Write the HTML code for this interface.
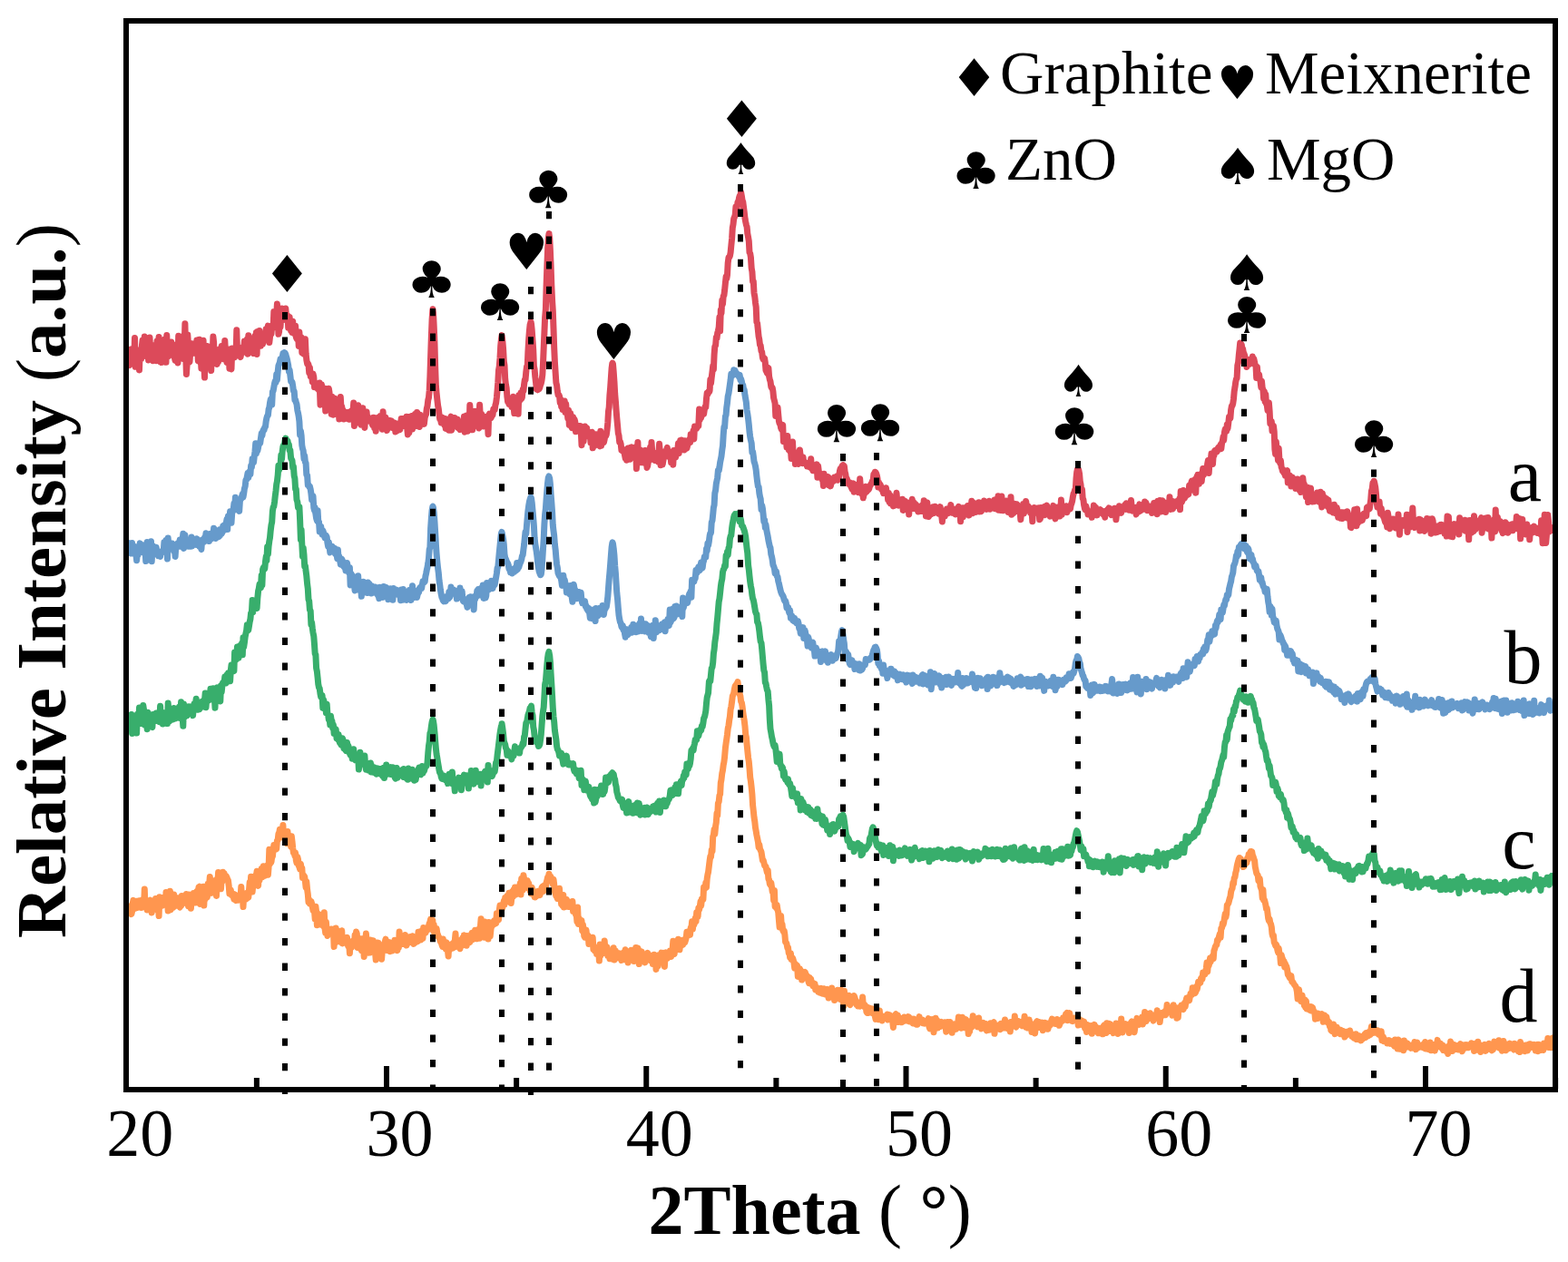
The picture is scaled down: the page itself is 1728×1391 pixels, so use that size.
<!DOCTYPE html><html><head><meta charset="utf-8"><title>XRD patterns</title><style>html,body{margin:0;padding:0;background:#fff;}svg{display:block;}.t{font-family:"Liberation Serif","DejaVu Serif",serif;}.s{font-family:"DejaVu Sans",sans-serif;}</style></head><body>
<svg width="1728" height="1391" viewBox="0 0 1728 1391">
<rect width="1728" height="1391" fill="#fff"/>
<path d="M142.0,390.3 142.7,402.7 143.4,401.4 144.2,385.1 144.9,387.1 145.6,384.9 146.3,395.1 147.0,389.2 147.8,396.7 148.5,372.4 149.2,404.3 149.9,388.7 150.6,395.9 151.4,388.2 152.1,385.9 152.8,393.7 153.5,407.9 154.2,387.4 155.0,387.8 155.7,395.6 156.4,381.0 157.1,375.0 157.8,392.7 158.6,382.7 159.3,371.0 160.0,381.3 160.7,384.5 161.4,377.6 162.2,374.8 162.9,389.0 163.6,396.9 164.3,383.3 165.0,371.9 165.8,392.0 166.5,395.0 167.2,385.5 167.9,393.2 168.6,397.7 169.4,386.2 170.1,380.5 170.8,391.1 171.5,390.1 172.2,397.7 173.0,376.0 173.7,381.6 174.4,379.8 175.1,371.6 175.8,388.4 176.6,398.7 177.3,380.3 178.0,399.6 178.7,394.3 179.4,392.4 180.2,395.4 180.9,395.2 181.6,374.0 182.3,391.8 183.0,399.3 183.8,369.6 184.5,388.9 185.2,383.3 185.9,392.6 186.6,381.4 187.4,385.1 188.1,388.2 188.8,377.1 189.5,390.3 190.2,383.9 191.0,389.1 191.7,379.9 192.4,394.2 193.1,397.4 193.8,382.8 194.6,389.9 195.3,395.4 196.0,400.0 196.7,370.2 197.4,391.9 198.2,388.1 198.9,383.2 199.6,375.2 200.0,395.0 200.3,373.0 201.0,389.0 201.8,395.4 202.5,370.1 203.2,381.5 203.9,356.7 204.6,386.4 205.4,412.4 206.1,402.2 206.8,368.9 207.5,379.5 208.2,399.6 209.0,398.8 209.7,388.7 210.4,378.5 211.1,387.9 211.8,385.2 212.6,383.7 213.3,379.1 214.0,389.3 214.7,388.7 215.4,385.3 216.2,384.3 216.9,374.9 217.6,382.2 218.3,397.6 219.0,385.2 219.8,374.2 220.5,399.2 221.2,392.1 221.9,406.2 222.6,388.3 223.4,383.8 224.1,375.3 224.8,399.7 225.5,416.1 226.2,381.3 227.0,383.0 227.7,393.8 228.4,381.6 229.1,386.5 229.8,385.9 230.6,390.7 231.3,398.7 232.0,389.4 232.7,408.5 233.4,385.8 234.2,392.4 234.9,371.1 235.6,377.2 236.3,396.7 237.0,384.9 237.8,395.0 238.5,394.7 239.2,401.4 239.9,397.2 240.6,398.9 241.4,389.5 242.1,384.7 242.8,384.5 243.5,386.6 244.2,381.4 245.0,386.3 245.7,390.1 246.4,395.8 247.1,388.2 247.8,375.4 248.6,390.4 249.3,392.8 250.0,399.5 250.7,395.5 251.4,386.0 252.2,385.3 252.9,406.2 253.6,396.5 254.3,404.6 255.0,406.8 255.8,384.0 256.5,393.1 257.2,393.4 257.9,394.0 258.6,393.7 259.4,390.8 260.1,390.4 260.8,363.8 261.5,387.2 262.2,382.3 263.0,388.9 263.7,384.0 264.4,392.2 265.1,393.5 265.8,389.2 266.6,388.9 267.3,386.9 268.0,382.3 268.7,384.2 269.4,376.0 270.2,387.9 270.9,384.7 271.6,388.7 272.3,374.1 273.0,390.2 273.8,369.7 274.5,377.4 275.2,381.0 275.9,377.9 276.6,386.8 277.4,377.0 278.1,372.9 278.8,374.1 279.5,389.5 280.2,379.7 281.0,370.3 281.7,378.4 282.4,366.4 283.1,390.5 283.8,365.6 284.6,379.8 285.3,379.7 286.0,364.5 286.7,376.8 287.4,381.3 288.2,376.8 288.9,374.8 289.6,379.0 290.3,372.8 291.0,373.4 291.8,369.6 292.5,374.1 293.2,362.7 293.9,373.8 294.6,364.1 295.4,359.1 296.1,368.7 296.8,377.6 297.5,371.5 298.2,360.1 299.0,368.0 299.7,359.1 300.4,359.5 301.1,361.5 301.8,343.6 302.6,360.7 303.3,351.4 304.0,353.1 304.7,347.2 305.4,335.1 306.2,349.4 306.9,368.3 307.6,365.6 308.3,353.6 309.0,360.5 309.8,350.7 310.5,339.9 311.2,351.9 311.9,352.8 312.6,347.8 313.4,350.9 314.1,351.7 314.8,340.0 315.0,342.6 315.5,348.1 316.2,348.4 317.0,348.1 317.7,361.3 318.4,359.3 319.1,349.4 319.8,355.9 320.6,364.5 321.3,357.5 322.0,366.4 322.7,354.3 323.4,364.8 324.2,367.5 324.9,364.0 325.6,359.3 326.3,371.7 327.0,373.3 327.8,370.3 328.5,366.4 329.2,381.4 329.9,366.1 330.6,378.8 331.4,377.2 332.1,371.9 332.8,388.5 333.5,388.0 334.2,378.4 335.0,390.2 335.7,383.3 336.4,373.8 337.1,389.3 337.8,396.5 338.6,400.8 339.3,400.5 340.0,402.0 340.7,410.7 341.4,405.1 342.2,414.7 342.9,411.4 343.6,414.2 344.3,420.8 345.0,412.1 345.8,415.6 346.5,426.7 347.2,423.4 347.9,422.4 348.6,426.2 349.4,424.1 350.1,428.3 350.8,425.1 351.5,430.1 352.2,422.1 353.0,446.2 353.7,428.5 354.4,423.6 355.1,431.2 355.8,431.0 356.6,434.4 357.3,427.9 358.0,436.8 358.7,453.0 359.4,428.4 360.2,438.1 360.9,435.0 361.6,438.3 362.3,428.2 363.0,432.4 363.8,441.3 364.5,439.1 365.2,456.3 365.9,437.3 366.6,442.4 367.4,457.2 368.1,439.1 368.8,439.1 369.5,444.4 370.2,445.1 371.0,450.6 371.7,447.6 372.4,443.9 373.1,449.5 373.8,462.1 374.6,456.0 375.3,437.6 376.0,449.7 376.7,447.9 377.4,455.2 378.2,452.2 378.9,462.0 379.6,458.0 380.3,458.2 381.0,455.3 381.8,454.6 382.5,456.7 383.2,461.6 383.9,458.2 384.6,454.2 385.4,462.3 386.1,457.3 386.8,456.2 387.5,452.9 388.2,454.3 389.0,454.1 389.7,443.9 390.4,469.4 391.1,460.5 391.8,456.9 392.6,463.2 393.3,460.4 394.0,460.3 394.7,446.8 395.4,457.7 396.2,461.5 396.9,466.8 397.6,468.0 398.3,466.2 399.0,454.3 399.8,449.7 400.5,462.8 401.2,460.5 401.9,471.4 402.6,460.1 403.4,463.4 404.1,454.0 404.8,463.4 405.5,459.4 406.2,463.3 407.0,464.0 407.7,461.5 408.4,463.7 409.1,462.3 409.8,466.2 410.6,468.6 411.3,460.3 412.0,460.3 412.7,471.8 413.4,463.0 414.2,475.3 414.9,465.7 415.6,461.2 416.3,460.5 417.0,464.9 417.8,465.8 418.5,467.7 419.2,458.5 419.9,462.0 420.6,464.7 421.4,473.2 422.1,453.8 422.8,467.9 423.5,463.2 424.2,468.2 425.0,460.3 425.7,468.3 426.4,474.6 427.1,468.6 427.8,469.2 428.6,471.7 429.3,463.6 430.0,470.3 430.7,465.2 431.4,463.8 432.2,467.9 432.9,467.1 433.6,472.1 434.3,468.3 435.0,466.0 435.8,475.9 436.5,473.7 437.2,475.2 437.9,471.9 438.6,468.4 439.4,466.9 440.1,467.6 440.8,473.7 441.5,469.5 442.2,461.5 443.0,468.6 443.7,461.6 444.4,469.5 445.1,462.4 445.8,461.9 446.6,468.9 447.3,467.7 448.0,459.3 448.7,471.6 449.4,478.9 450.2,459.5 450.9,476.8 451.6,463.2 452.3,460.3 453.0,465.5 453.8,458.4 454.5,473.0 455.2,468.4 455.9,461.3 456.6,463.7 457.4,456.5 458.1,462.7 458.8,469.6 459.5,454.6 460.2,461.5 461.0,464.5 461.7,469.2 462.4,470.4 463.1,457.3 463.8,459.0 464.6,464.5 465.3,460.6 466.0,460.6 466.7,464.0 467.4,467.4 468.2,460.3 468.9,458.0 469.6,456.5 470.3,450.3 471.0,447.7 471.8,440.9 472.5,438.1 473.2,430.2 473.9,415.0 474.6,393.2 475.4,369.6 476.1,351.9 476.8,342.0 477.0,340.8 477.5,345.0 478.2,359.4 479.0,379.2 479.7,405.1 480.4,425.3 481.1,433.4 481.8,440.1 482.6,447.0 483.3,450.7 484.0,456.8 484.7,461.8 485.4,460.9 486.2,466.0 486.9,464.2 487.6,460.3 488.3,466.1 489.0,463.2 489.8,468.4 490.5,461.5 491.2,472.4 491.9,462.9 492.6,469.1 493.4,463.4 494.1,465.0 494.8,474.3 495.5,468.3 496.2,461.1 497.0,459.2 497.7,474.2 498.4,471.6 499.1,465.0 499.8,468.5 500.6,460.6 501.3,460.6 502.0,461.8 502.7,469.2 503.4,468.9 504.2,462.3 504.9,471.7 505.6,472.0 506.3,468.1 507.0,473.6 507.8,465.2 508.5,466.3 509.2,470.0 509.9,466.8 510.6,472.1 511.4,459.0 512.1,476.2 512.8,462.0 513.5,465.9 514.2,458.1 515.0,470.9 515.7,475.2 516.4,473.9 517.1,472.4 517.8,446.5 518.6,462.0 519.3,464.1 520.0,453.2 520.7,473.8 521.4,468.1 522.2,466.7 522.9,469.7 523.6,453.2 524.3,461.2 525.0,461.2 525.8,469.2 526.5,468.1 527.2,469.3 527.9,472.0 528.6,446.3 529.4,461.7 530.1,465.7 530.8,456.4 531.5,461.0 532.2,469.8 533.0,470.0 533.7,469.5 534.4,462.9 535.1,460.9 535.8,468.3 536.6,459.1 537.3,462.9 538.0,478.7 538.7,457.9 539.4,456.2 540.2,458.8 540.9,460.9 541.6,459.6 542.3,457.3 543.0,457.3 543.8,450.9 544.5,451.5 545.2,451.5 545.9,446.5 546.6,444.2 547.4,438.1 548.1,430.1 548.8,421.3 549.5,408.1 550.2,404.4 551.0,394.5 551.7,381.4 552.4,374.3 553.0,370.1 553.1,369.6 553.8,375.2 554.6,384.9 555.3,398.3 556.0,402.6 556.7,417.6 557.4,423.6 558.2,428.0 558.9,437.4 559.6,442.7 560.3,441.5 561.0,445.4 561.8,441.1 562.5,446.3 563.2,441.0 563.9,448.5 564.6,440.5 565.4,437.2 566.1,448.3 566.8,455.6 567.5,443.7 568.2,449.0 569.0,445.3 569.7,442.7 570.4,445.8 571.1,456.3 571.8,435.7 572.6,441.9 573.3,439.6 574.0,433.0 574.7,439.5 575.4,438.0 576.2,429.3 576.9,431.0 577.6,423.7 578.3,418.7 579.0,418.9 579.8,409.6 580.5,404.2 581.2,404.4 581.9,387.6 582.6,375.5 583.4,364.5 584.1,357.8 584.8,355.7 585.0,354.6 585.5,356.9 586.2,363.7 587.0,375.4 587.7,385.5 588.4,403.5 589.1,406.9 589.8,415.4 590.6,422.2 591.3,428.9 592.0,428.7 592.7,429.7 593.4,428.8 594.2,428.7 594.9,427.0 595.6,424.2 596.3,422.6 597.0,419.3 597.8,413.4 598.5,400.6 599.2,383.4 599.9,366.8 600.6,350.4 601.4,340.5 602.1,314.9 602.8,295.4 603.5,277.5 604.2,263.0 605.0,257.5 605.0,257.7 605.7,262.5 606.4,276.0 607.1,293.1 607.8,313.9 608.6,331.5 609.3,342.5 610.0,362.2 610.7,383.1 611.4,398.8 612.2,411.4 612.9,421.9 613.6,424.6 614.3,430.9 615.0,435.1 615.8,435.1 616.5,436.5 617.2,443.7 617.9,440.0 618.6,448.0 619.4,442.3 620.1,451.4 620.8,450.0 621.5,448.9 622.2,442.0 623.0,454.5 623.7,445.2 624.4,454.2 625.1,454.7 625.8,461.1 626.6,452.3 627.3,468.3 628.0,458.8 628.7,455.4 629.4,469.3 630.2,471.6 630.9,462.7 631.6,459.6 632.3,465.2 633.0,462.1 633.8,464.8 634.5,475.8 635.2,470.0 635.9,469.3 636.6,471.0 637.4,469.4 638.1,475.1 638.8,475.9 639.5,469.5 640.2,472.8 641.0,490.7 641.7,475.9 642.4,473.2 643.1,486.4 643.8,475.6 644.6,470.0 645.3,480.7 646.0,472.6 646.7,471.7 647.4,480.7 648.2,478.9 648.9,476.2 649.6,478.0 650.3,478.4 651.0,488.1 651.8,478.9 652.5,476.2 653.2,493.8 653.9,481.3 654.6,491.7 655.4,491.2 656.1,484.4 656.8,478.7 657.5,487.8 658.2,488.9 659.0,490.3 659.7,486.3 660.4,491.2 661.1,491.8 661.8,475.2 662.6,491.3 663.3,485.7 664.0,482.3 664.7,482.9 665.4,487.8 666.2,484.2 666.9,479.3 667.6,480.7 668.3,478.9 669.0,474.1 669.8,466.0 670.5,453.3 671.2,449.0 671.9,435.6 672.6,427.7 673.4,416.0 674.1,405.7 674.8,400.6 675.0,400.2 675.5,401.4 676.2,409.7 677.0,421.2 677.7,434.1 678.4,442.4 679.1,451.9 679.8,460.7 680.6,469.4 681.3,477.5 682.0,479.9 682.7,487.2 683.4,486.7 684.2,489.5 684.9,496.1 685.6,495.7 686.3,497.3 687.0,497.1 687.8,495.8 688.5,501.5 689.2,505.2 689.9,499.0 690.6,507.2 691.4,497.5 692.1,494.1 692.8,505.0 693.5,502.5 694.2,506.3 695.0,493.2 695.7,497.3 696.4,492.9 697.1,496.5 697.8,497.3 698.6,495.5 699.3,504.8 700.0,499.7 700.7,492.7 701.4,516.6 702.2,499.0 702.9,487.4 703.6,510.1 704.3,509.7 705.0,497.5 705.8,495.8 706.5,498.4 707.2,509.7 707.9,502.1 708.6,499.5 709.4,503.7 710.1,510.2 710.8,496.5 711.5,501.9 712.2,496.6 713.0,515.4 713.7,513.5 714.4,509.0 715.1,502.3 715.8,507.4 716.6,493.0 717.3,505.4 718.0,487.5 718.7,497.2 719.4,500.5 720.2,499.9 720.9,506.8 721.6,507.3 722.3,505.1 723.0,499.2 723.8,506.8 724.5,502.8 725.2,508.9 725.9,498.5 726.6,489.3 727.4,500.2 728.1,512.8 728.8,504.3 729.5,500.7 730.2,512.0 731.0,507.1 731.7,503.0 732.4,497.7 733.1,501.0 733.8,500.7 734.6,496.1 735.3,493.3 736.0,499.4 736.7,503.2 737.4,501.3 738.2,500.2 738.9,499.9 739.6,509.8 740.3,498.2 741.0,501.8 741.8,512.2 742.5,496.4 743.2,497.2 743.9,501.0 744.6,504.1 745.4,496.8 746.1,496.8 746.8,495.2 747.5,488.7 748.2,499.7 749.0,492.8 749.7,485.6 750.4,492.8 751.1,485.1 751.8,488.3 752.6,492.5 753.3,488.2 754.0,495.9 754.7,485.7 755.4,491.6 756.2,491.9 756.9,494.1 757.6,491.3 758.3,487.8 759.0,486.1 759.8,484.2 760.5,487.9 761.2,478.7 761.9,482.7 762.6,478.2 763.4,478.3 764.1,474.6 764.8,483.9 765.5,470.1 766.2,473.0 767.0,471.9 767.7,472.3 768.4,470.1 769.1,468.6 769.8,469.6 770.6,451.1 771.3,462.7 772.0,456.6 772.7,460.5 773.4,454.0 774.2,453.2 774.9,454.2 775.6,456.5 776.3,451.8 777.0,448.5 777.8,449.0 778.5,439.4 779.2,433.2 779.9,434.8 780.6,431.9 781.4,432.3 782.1,430.6 782.8,418.6 783.5,422.7 784.2,416.2 785.0,409.7 785.7,403.3 786.4,407.1 787.1,390.8 787.8,382.0 788.6,380.7 789.3,372.0 790.0,373.1 790.7,367.1 791.4,364.8 792.2,360.8 792.9,349.8 793.6,364.9 794.3,341.7 795.0,345.4 795.8,330.9 796.5,335.1 797.2,326.3 797.9,325.5 798.6,319.8 799.4,311.8 800.1,305.1 800.8,307.2 801.5,302.9 802.2,289.8 803.0,283.8 803.7,283.5 804.4,282.2 805.1,278.3 805.8,271.0 806.6,263.0 807.3,251.0 808.0,247.4 808.7,240.8 809.4,239.5 810.2,236.8 810.9,228.1 811.6,235.1 812.3,227.9 813.0,222.7 813.8,222.3 814.5,218.0 815.2,215.8 815.9,215.1 816.0,214.7 816.6,211.8 817.4,216.3 818.1,221.1 818.8,222.6 819.5,228.2 820.2,233.5 821.0,240.7 821.7,244.5 822.4,247.8 823.1,249.8 823.8,257.3 824.6,261.7 825.3,265.9 826.0,278.2 826.7,279.3 827.4,283.5 828.2,295.7 828.9,299.3 829.6,310.4 830.3,310.1 831.0,322.8 831.8,327.2 832.5,333.7 833.2,338.2 833.9,355.1 834.6,356.3 835.4,364.1 836.1,370.9 836.8,374.3 837.5,380.1 838.2,381.0 839.0,387.1 839.7,388.1 840.4,394.1 841.1,396.2 841.8,394.4 842.6,395.0 843.3,399.6 844.0,408.2 844.7,409.4 845.4,411.3 846.2,405.1 846.9,405.8 847.6,414.9 848.3,418.4 849.0,420.4 849.8,426.2 850.5,427.7 851.2,427.4 851.9,431.4 852.6,438.7 853.4,441.7 854.1,444.5 854.8,458.6 855.5,450.3 856.2,454.5 857.0,448.9 857.7,456.5 858.4,464.2 859.1,467.0 859.8,467.1 860.6,471.7 861.3,473.3 862.0,469.5 862.7,468.4 863.4,486.6 864.2,484.5 864.9,484.1 865.6,481.4 866.3,484.2 867.0,493.0 867.8,480.5 868.5,490.5 869.2,495.7 869.9,494.3 870.6,497.6 871.4,495.4 872.1,505.6 872.8,494.0 873.5,486.9 874.2,500.6 875.0,505.7 875.7,501.0 876.4,511.5 877.1,500.7 877.8,498.8 878.6,509.4 879.3,510.8 880.0,511.3 880.7,504.3 881.4,495.9 882.2,502.7 882.9,506.8 883.6,510.4 884.3,510.6 885.0,503.7 885.8,510.4 886.5,510.2 887.2,510.8 887.9,510.7 888.6,510.4 889.4,514.0 890.1,512.5 890.8,513.3 891.5,510.0 892.2,514.7 893.0,513.0 893.7,505.7 894.4,516.2 895.1,512.4 895.8,518.7 896.6,515.1 897.3,515.9 898.0,518.6 898.7,517.3 899.4,516.3 900.2,511.9 900.9,526.3 901.6,513.8 902.3,519.3 903.0,524.0 903.8,525.6 904.5,524.9 905.2,526.3 905.9,528.6 906.6,525.8 907.4,535.5 908.1,522.3 908.8,527.1 909.5,525.5 910.2,525.1 911.0,528.6 911.7,533.3 912.4,525.6 913.1,526.0 913.8,535.1 914.6,531.1 915.3,535.9 916.0,532.9 916.7,530.5 917.4,529.1 918.2,530.5 918.9,529.4 919.6,526.0 920.3,528.8 921.0,527.5 921.8,526.4 922.5,524.8 923.2,529.3 923.9,528.1 924.6,525.1 925.4,519.4 926.1,516.6 926.8,516.8 927.5,515.6 928.2,513.3 929.0,512.6 929.0,513.9 929.7,514.4 930.4,513.8 931.1,519.9 931.8,522.4 932.6,528.2 933.3,527.6 934.0,530.5 934.7,533.2 935.4,533.0 936.2,531.6 936.9,533.1 937.6,535.8 938.3,537.4 939.0,539.0 939.8,536.5 940.5,532.9 941.2,542.3 941.9,538.7 942.6,539.4 943.4,539.3 944.1,534.5 944.8,537.4 945.5,539.7 946.2,542.7 947.0,539.3 947.7,527.8 948.4,538.5 949.1,540.8 949.8,544.3 950.6,542.3 951.3,548.8 952.0,544.8 952.7,544.3 953.4,542.8 954.2,536.2 954.9,542.1 955.6,541.2 956.3,538.3 957.0,540.0 957.8,538.7 958.5,535.6 959.2,535.1 959.9,533.4 960.6,533.2 961.4,530.0 962.1,530.5 962.8,523.0 963.5,523.4 964.2,520.2 965.0,520.6 965.0,521.5 965.7,521.9 966.4,524.2 967.1,528.0 967.8,537.0 968.6,531.6 969.3,537.1 970.0,534.0 970.7,535.6 971.4,539.2 972.2,537.6 972.9,541.3 973.6,543.7 974.3,538.6 975.0,542.7 975.8,542.4 976.5,537.8 977.2,544.2 977.9,542.7 978.6,550.7 979.4,543.4 980.1,553.2 980.8,545.7 981.5,555.1 982.2,550.6 983.0,553.1 983.7,552.6 984.4,557.9 985.1,555.7 985.8,557.3 986.6,550.5 987.3,547.8 988.0,543.3 988.7,551.7 989.4,556.2 990.2,557.1 990.9,554.7 991.6,553.5 992.3,552.9 993.0,554.5 993.8,557.1 994.5,550.2 995.2,562.4 995.9,551.9 996.6,556.5 997.4,552.2 998.1,556.3 998.8,554.2 999.5,553.9 1000.2,557.2 1001.0,554.4 1001.7,567.0 1002.4,557.0 1003.1,556.3 1003.8,556.8 1004.6,555.1 1005.3,550.3 1006.0,558.3 1006.7,560.5 1007.4,554.1 1008.2,559.7 1008.9,555.5 1009.6,559.8 1010.3,561.3 1011.0,561.9 1011.8,564.0 1012.5,557.9 1013.2,563.7 1013.9,559.1 1014.6,562.1 1015.4,563.4 1016.1,560.0 1016.8,556.6 1017.5,563.5 1018.2,551.8 1019.0,558.3 1019.7,557.7 1020.4,568.9 1021.1,561.2 1021.8,553.9 1022.6,564.6 1023.3,569.5 1024.0,568.6 1024.7,560.3 1025.4,562.7 1026.2,566.8 1026.9,565.7 1027.6,562.8 1028.3,558.8 1029.0,565.5 1029.8,565.1 1030.5,558.2 1031.2,561.7 1031.9,564.0 1032.6,563.1 1033.4,565.1 1034.1,566.1 1034.8,565.3 1035.5,563.0 1036.2,558.6 1037.0,565.7 1037.7,568.5 1038.4,575.0 1039.1,563.5 1039.8,563.5 1040.6,568.9 1041.3,568.9 1042.0,565.0 1042.7,566.3 1043.4,561.1 1044.2,565.9 1044.9,560.9 1045.6,563.4 1046.3,563.5 1047.0,562.3 1047.8,556.4 1048.5,561.0 1049.2,565.1 1049.9,563.7 1050.6,562.6 1051.4,565.4 1052.1,566.3 1052.8,566.9 1053.5,561.0 1054.2,563.9 1055.0,562.6 1055.7,560.6 1056.4,558.4 1057.1,563.3 1057.8,560.5 1058.6,574.8 1059.3,563.0 1060.0,562.5 1060.7,559.8 1061.4,569.8 1062.2,559.7 1062.9,562.4 1063.6,560.1 1064.3,562.3 1065.0,562.5 1065.8,566.4 1066.5,557.4 1067.2,562.2 1067.9,568.0 1068.6,560.2 1069.4,561.3 1070.1,558.6 1070.8,552.3 1071.5,561.2 1072.2,565.7 1073.0,559.6 1073.7,554.5 1074.4,562.0 1075.1,561.2 1075.8,564.4 1076.6,563.9 1077.3,559.6 1078.0,561.8 1078.7,553.8 1079.4,564.1 1080.2,560.7 1080.9,563.8 1081.6,563.6 1082.3,558.6 1083.0,559.0 1083.8,556.3 1084.5,552.0 1085.2,558.7 1085.9,559.6 1086.6,555.1 1087.4,561.4 1088.1,559.1 1088.8,560.3 1089.5,555.9 1090.2,552.3 1091.0,561.2 1091.7,560.5 1092.4,557.9 1093.1,556.8 1093.8,557.2 1094.6,557.7 1095.3,556.3 1096.0,551.0 1096.7,560.8 1097.4,552.7 1098.2,556.8 1098.9,556.9 1099.6,558.9 1100.0,546.8 1100.3,562.2 1101.0,560.3 1101.8,560.7 1102.5,562.4 1103.2,555.2 1103.9,547.0 1104.6,559.3 1105.4,562.8 1106.1,562.3 1106.8,553.7 1107.5,558.0 1108.2,559.4 1109.0,552.1 1109.7,556.2 1110.4,556.4 1111.1,564.4 1111.8,556.5 1112.6,564.5 1113.3,559.1 1114.0,547.7 1114.7,567.2 1115.4,555.9 1116.2,561.7 1116.9,565.7 1117.6,557.8 1118.3,555.4 1119.0,563.7 1119.8,560.6 1120.5,555.7 1121.2,556.4 1121.9,559.0 1122.6,564.1 1123.4,559.7 1124.1,563.2 1124.8,572.7 1125.5,565.7 1126.2,566.5 1127.0,565.9 1127.7,555.6 1128.4,566.1 1129.1,562.9 1129.8,561.4 1130.6,552.5 1131.3,556.3 1132.0,558.2 1132.7,562.3 1133.4,558.2 1134.2,559.6 1134.9,560.4 1135.6,565.2 1136.3,561.8 1137.0,562.5 1137.8,574.7 1138.5,562.0 1139.2,565.5 1139.9,559.5 1140.6,564.6 1141.4,564.0 1142.1,565.1 1142.8,562.0 1143.5,560.0 1144.2,562.7 1145.0,559.8 1145.7,572.8 1146.4,571.8 1147.1,559.6 1147.8,566.2 1148.6,562.2 1149.3,565.7 1150.0,559.8 1150.7,558.6 1151.4,567.7 1152.2,565.6 1152.9,559.5 1153.6,557.0 1154.3,562.0 1155.0,559.6 1155.8,562.5 1156.5,566.1 1157.2,569.2 1157.9,562.5 1158.6,568.8 1159.4,567.9 1160.1,562.0 1160.8,557.4 1161.5,566.6 1162.2,565.6 1163.0,571.9 1163.7,568.5 1164.4,566.0 1165.1,569.2 1165.8,559.1 1166.6,563.5 1167.3,561.7 1168.0,568.9 1168.7,564.5 1169.4,551.1 1170.2,567.2 1170.9,558.7 1171.6,564.7 1172.3,559.9 1173.0,562.4 1173.8,563.6 1174.5,561.8 1175.2,557.8 1175.9,564.7 1176.6,561.5 1177.4,560.2 1178.1,561.3 1178.8,558.5 1179.5,561.0 1180.2,556.6 1181.0,554.6 1181.7,552.0 1182.4,547.4 1183.1,544.1 1183.8,543.0 1184.6,539.7 1185.3,539.5 1186.0,527.4 1186.7,520.4 1187.4,517.4 1188.0,516.4 1188.2,516.6 1188.9,518.7 1189.6,522.4 1190.3,530.6 1191.0,533.8 1191.8,542.0 1192.5,539.3 1193.2,549.2 1193.9,550.7 1194.6,556.6 1195.4,560.4 1196.1,561.9 1196.8,557.8 1197.5,561.1 1198.2,561.7 1199.0,567.0 1199.7,564.8 1200.4,564.5 1201.1,565.0 1201.8,566.0 1202.6,566.4 1203.3,570.3 1204.0,563.8 1204.7,564.8 1205.4,556.9 1206.2,558.9 1206.9,561.3 1207.6,559.4 1208.3,564.8 1209.0,567.9 1209.8,562.2 1210.5,562.0 1211.2,561.8 1211.9,564.3 1212.6,561.6 1213.4,565.3 1214.1,564.8 1214.8,564.9 1215.5,566.5 1216.2,563.7 1217.0,564.0 1217.7,570.2 1218.4,563.2 1219.1,566.4 1219.8,563.5 1220.6,561.5 1221.3,561.4 1222.0,560.0 1222.7,563.2 1223.4,560.7 1224.2,561.4 1224.9,567.7 1225.6,562.4 1226.3,567.3 1227.0,563.8 1227.8,566.1 1228.5,560.3 1229.2,563.2 1229.9,572.8 1230.6,565.7 1231.4,566.4 1232.1,563.3 1232.8,565.7 1233.5,557.8 1234.2,558.9 1235.0,563.8 1235.7,565.3 1236.4,560.4 1237.1,560.2 1237.8,560.5 1238.6,561.1 1239.3,557.1 1240.0,556.1 1240.7,561.4 1241.4,554.8 1242.2,557.7 1242.9,558.9 1243.6,557.3 1244.3,562.3 1245.0,559.6 1245.8,560.9 1246.5,551.6 1247.2,558.2 1247.9,563.1 1248.6,562.4 1249.4,559.1 1250.1,562.3 1250.8,562.5 1251.5,561.4 1252.2,567.0 1253.0,559.1 1253.7,562.3 1254.4,564.4 1255.1,559.6 1255.8,555.9 1256.6,563.2 1257.3,562.7 1258.0,560.6 1258.7,560.4 1259.4,560.3 1260.2,556.7 1260.9,561.3 1261.6,553.0 1262.3,559.9 1263.0,554.1 1263.8,558.6 1264.5,562.7 1265.2,558.8 1265.9,557.9 1266.6,561.8 1267.4,558.6 1268.1,558.0 1268.8,558.0 1269.5,565.5 1270.2,562.1 1271.0,561.3 1271.7,554.6 1272.4,564.8 1273.1,554.1 1273.8,561.0 1274.6,554.6 1275.3,566.7 1276.0,552.2 1276.7,563.6 1277.4,561.9 1278.2,551.6 1278.9,557.6 1279.6,564.1 1280.3,562.8 1281.0,551.7 1281.8,552.9 1282.5,553.5 1283.2,554.0 1283.9,555.4 1284.6,564.5 1285.4,558.0 1286.1,556.5 1286.8,555.9 1287.5,559.3 1288.2,559.1 1289.0,547.8 1289.7,561.4 1290.4,551.5 1291.1,552.4 1291.8,556.6 1292.6,561.0 1293.3,552.7 1294.0,554.7 1294.7,558.2 1295.4,555.2 1296.2,556.7 1296.9,555.9 1297.6,552.4 1298.3,553.3 1299.0,553.9 1299.8,549.8 1300.5,561.7 1301.2,541.5 1301.9,545.0 1302.6,553.1 1303.4,548.7 1304.1,540.4 1304.8,547.2 1305.5,549.2 1306.2,542.3 1307.0,546.6 1307.7,542.5 1308.4,541.7 1309.1,541.1 1309.8,545.0 1310.6,535.3 1311.3,537.5 1312.0,540.8 1312.7,532.4 1313.4,530.1 1314.2,538.0 1314.9,534.9 1315.6,533.5 1316.3,533.8 1317.0,528.5 1317.8,543.2 1318.5,526.8 1319.2,525.3 1319.9,523.3 1320.6,526.4 1321.4,533.3 1322.1,526.3 1322.8,527.7 1323.5,522.5 1324.2,530.7 1325.0,523.2 1325.7,516.6 1326.4,523.7 1327.1,518.2 1327.8,521.1 1328.6,518.2 1329.3,517.7 1330.0,516.6 1330.7,510.9 1331.4,507.5 1332.2,521.6 1332.9,510.9 1333.6,512.8 1334.3,507.4 1335.0,500.0 1335.8,501.9 1336.5,511.5 1337.2,501.7 1337.9,502.2 1338.6,496.9 1339.4,496.2 1340.1,496.5 1340.8,498.1 1341.5,497.3 1342.2,494.0 1343.0,492.9 1343.7,493.5 1344.4,493.2 1345.1,490.0 1345.8,494.8 1346.6,488.0 1347.3,486.1 1348.0,481.6 1348.7,485.2 1349.4,476.7 1350.2,472.9 1350.9,472.8 1351.6,475.3 1352.3,467.9 1353.0,472.2 1353.8,466.0 1354.5,459.4 1355.2,459.7 1355.9,461.1 1356.6,451.8 1357.4,447.4 1358.1,447.1 1358.8,444.5 1359.5,439.4 1360.2,431.4 1361.0,426.7 1361.7,421.2 1362.4,418.0 1363.1,416.9 1363.8,402.8 1364.6,399.2 1365.3,391.2 1366.0,385.0 1366.7,377.9 1367.0,378.4 1367.4,379.5 1368.2,379.7 1368.9,383.6 1369.6,384.5 1370.3,388.3 1371.0,389.7 1371.8,392.3 1372.5,395.3 1373.2,399.2 1373.9,404.5 1374.6,398.5 1375.4,402.0 1376.1,401.6 1376.8,399.8 1377.5,401.2 1378.2,395.9 1379.0,397.8 1379.7,399.3 1380.4,393.1 1381.0,396.2 1381.1,396.5 1381.8,395.4 1382.6,399.3 1383.3,402.4 1384.0,403.1 1384.7,416.5 1385.4,404.6 1386.2,414.5 1386.9,413.7 1387.6,412.9 1388.3,418.3 1389.0,419.8 1389.8,426.8 1390.5,420.3 1391.2,427.7 1391.9,429.2 1392.6,439.3 1393.4,431.8 1394.1,442.6 1394.8,434.8 1395.5,445.2 1396.2,446.3 1397.0,452.4 1397.7,450.0 1398.4,444.1 1399.1,452.7 1399.8,466.8 1400.6,465.7 1401.3,464.4 1402.0,475.1 1402.7,471.2 1403.4,469.2 1404.2,475.6 1404.9,495.3 1405.6,500.4 1406.3,486.9 1407.0,494.8 1407.8,500.3 1408.5,507.3 1409.2,494.2 1409.9,506.0 1410.6,510.3 1411.4,507.5 1412.1,514.7 1412.8,516.5 1413.5,519.5 1414.2,517.8 1415.0,521.4 1415.7,519.6 1416.4,524.1 1417.1,523.6 1417.8,519.8 1418.6,518.8 1419.3,532.0 1420.0,530.6 1420.7,530.3 1421.4,524.0 1422.2,526.1 1422.9,536.1 1423.6,532.5 1424.3,526.0 1425.0,530.7 1425.8,531.7 1426.5,530.9 1427.2,528.2 1427.9,538.6 1428.6,536.3 1429.4,533.4 1430.1,527.9 1430.8,532.8 1431.5,536.0 1432.2,540.4 1433.0,535.5 1433.7,542.6 1434.4,538.8 1435.1,535.4 1435.8,526.8 1436.6,534.5 1437.3,533.5 1438.0,539.9 1438.7,542.6 1439.4,547.8 1440.2,541.9 1440.9,537.1 1441.6,553.6 1442.3,544.6 1443.0,542.4 1443.8,542.8 1444.5,538.1 1445.2,547.8 1445.9,547.0 1446.6,553.0 1447.4,551.2 1448.1,550.5 1448.8,552.7 1449.5,546.1 1450.2,545.8 1451.0,548.1 1451.7,543.0 1452.4,548.6 1453.1,548.2 1453.8,553.3 1454.6,550.6 1455.3,542.2 1456.0,551.8 1456.7,558.9 1457.4,544.0 1458.2,549.6 1458.9,553.8 1459.6,547.9 1460.3,552.1 1461.0,555.4 1461.8,549.5 1462.5,557.5 1463.2,558.6 1463.9,551.2 1464.6,557.7 1465.4,563.1 1466.1,556.2 1466.8,561.0 1467.5,562.4 1468.2,558.7 1469.0,564.9 1469.7,562.5 1470.4,556.3 1471.1,563.9 1471.8,565.9 1472.6,566.1 1473.3,559.6 1474.0,565.3 1474.7,570.2 1475.4,565.1 1476.2,570.1 1476.9,571.1 1477.6,564.7 1478.3,568.8 1479.0,564.8 1479.8,571.5 1480.5,566.5 1481.2,564.8 1481.9,567.6 1482.6,567.7 1483.4,570.1 1484.1,570.7 1484.8,563.8 1485.5,566.3 1486.2,570.9 1487.0,571.6 1487.7,570.1 1488.4,581.3 1489.1,581.6 1489.8,569.6 1490.6,573.2 1491.3,576.0 1492.0,571.6 1492.7,561.7 1493.4,570.3 1494.2,570.0 1494.9,579.7 1495.6,561.0 1496.3,576.7 1497.0,567.6 1497.8,573.6 1498.5,567.8 1499.2,569.8 1499.9,574.1 1500.6,569.0 1501.4,573.2 1502.1,567.8 1502.8,566.5 1503.5,567.0 1504.2,566.1 1505.0,566.8 1505.7,568.8 1506.4,559.2 1507.1,558.8 1507.8,559.2 1508.6,560.2 1509.3,560.7 1510.0,555.6 1510.7,550.8 1511.4,541.4 1512.2,538.9 1512.9,532.6 1513.6,532.8 1514.0,533.6 1514.3,530.3 1515.0,533.3 1515.8,537.5 1516.5,544.4 1517.2,554.1 1517.9,559.0 1518.6,557.7 1519.4,553.0 1520.1,553.0 1520.8,561.5 1521.5,566.3 1522.2,560.2 1523.0,565.1 1523.7,566.8 1524.4,569.4 1525.1,569.7 1525.8,572.8 1526.6,575.5 1527.3,572.9 1528.0,575.9 1528.7,580.9 1529.4,565.3 1530.2,570.2 1530.9,576.5 1531.6,582.7 1532.3,575.4 1533.0,580.0 1533.8,573.3 1534.5,579.4 1535.2,571.9 1535.9,578.4 1536.6,577.1 1537.4,577.1 1538.1,582.0 1538.8,580.6 1539.5,572.4 1540.2,579.8 1541.0,567.1 1541.7,580.4 1542.4,589.2 1543.1,578.3 1543.8,578.2 1544.6,576.0 1545.3,579.9 1546.0,573.5 1546.7,579.2 1547.4,574.5 1548.2,573.8 1548.9,576.6 1549.6,575.7 1550.3,567.3 1551.0,586.4 1551.8,576.8 1552.5,567.7 1553.2,581.5 1553.9,576.0 1554.6,577.2 1555.4,579.8 1556.1,571.9 1556.8,559.9 1557.5,575.9 1558.2,577.7 1559.0,581.5 1559.7,572.9 1560.4,575.3 1561.1,578.7 1561.8,575.3 1562.6,575.7 1563.3,580.9 1564.0,572.2 1564.7,585.0 1565.4,572.8 1566.2,577.7 1566.9,576.0 1567.6,574.2 1568.3,580.5 1569.0,583.0 1569.8,585.4 1570.5,581.2 1571.2,576.3 1571.9,583.0 1572.6,571.6 1573.4,579.2 1574.1,581.8 1574.8,582.2 1575.5,573.7 1576.2,572.1 1577.0,588.2 1577.7,577.4 1578.4,571.8 1579.1,574.1 1579.8,581.4 1580.6,586.6 1581.3,581.5 1582.0,587.0 1582.7,582.3 1583.4,583.6 1584.2,586.3 1584.9,579.7 1585.6,585.9 1586.3,579.9 1587.0,578.8 1587.8,585.4 1588.5,578.2 1589.2,582.8 1589.9,578.6 1590.6,582.2 1591.4,580.1 1592.1,588.2 1592.8,583.3 1593.5,583.4 1594.2,591.1 1595.0,568.9 1595.7,577.7 1596.4,569.8 1597.1,583.2 1597.8,585.4 1598.6,591.2 1599.3,584.6 1600.0,579.0 1600.7,591.8 1601.4,584.7 1602.2,581.9 1602.9,577.6 1603.6,585.2 1604.3,580.6 1605.0,577.9 1605.8,583.9 1606.5,583.9 1607.2,578.7 1607.9,588.9 1608.6,570.8 1609.4,576.9 1610.1,583.9 1610.8,582.9 1611.5,582.5 1612.2,579.9 1613.0,582.1 1613.7,578.9 1614.4,573.3 1615.1,585.2 1615.8,576.3 1616.6,580.1 1617.3,584.8 1618.0,581.1 1618.7,594.8 1619.4,573.6 1620.2,576.7 1620.9,580.9 1621.6,587.2 1622.3,578.9 1623.0,572.7 1623.8,585.7 1624.5,568.7 1625.2,578.6 1625.9,583.9 1626.6,576.0 1627.4,573.9 1628.1,581.6 1628.8,578.0 1629.5,580.3 1630.2,574.0 1631.0,578.1 1631.7,573.1 1632.4,570.7 1633.1,587.2 1633.8,580.6 1634.6,582.9 1635.3,573.4 1636.0,578.0 1636.7,577.1 1637.4,571.0 1638.2,580.8 1638.9,574.4 1639.6,577.0 1640.0,570.4 1640.3,583.0 1641.0,581.8 1641.8,580.0 1642.5,573.5 1643.2,575.3 1643.9,593.0 1644.6,576.7 1645.4,579.5 1646.1,578.9 1646.8,572.5 1647.5,586.0 1648.2,562.0 1649.0,581.1 1649.7,577.9 1650.4,570.2 1651.1,580.2 1651.8,581.2 1652.6,579.2 1653.3,574.4 1654.0,581.0 1654.7,584.5 1655.4,580.0 1656.2,587.7 1656.9,583.4 1657.6,583.0 1658.3,586.3 1659.0,575.8 1659.8,576.6 1660.5,582.0 1661.2,582.1 1661.9,587.3 1662.6,585.5 1663.4,580.6 1664.1,580.9 1664.8,578.5 1665.5,578.1 1666.2,577.8 1667.0,584.8 1667.7,577.8 1668.4,578.5 1669.1,582.5 1669.8,577.9 1670.6,579.5 1671.3,569.5 1672.0,582.8 1672.7,579.4 1673.4,582.0 1674.2,583.1 1674.9,571.7 1675.6,593.8 1676.3,582.3 1677.0,582.5 1677.8,572.6 1678.5,585.1 1679.2,584.1 1679.9,580.3 1680.6,583.6 1681.4,589.0 1682.1,580.8 1682.8,578.0 1683.5,589.6 1684.2,584.2 1685.0,582.0 1685.7,594.8 1686.4,583.9 1687.1,582.3 1687.8,584.6 1688.6,581.2 1689.3,587.0 1690.0,584.1 1690.7,580.1 1691.4,582.1 1692.2,585.1 1692.9,585.5 1693.6,586.5 1694.3,587.6 1695.0,587.6 1695.8,586.3 1696.5,581.7 1697.2,582.3 1697.9,588.9 1698.6,573.7 1699.4,585.5 1700.1,598.8 1700.8,574.5 1701.5,590.8 1702.2,567.2 1703.0,585.1 1703.7,598.5 1704.4,590.4 1705.1,578.4 1705.8,567.6 1706.6,575.3 1707.3,586.1 1708.0,580.2 1708.7,582.1 1709.4,583.2 1710.2,583.8 1710.9,584.3 1711.6,582.0" fill="none" stroke="#dc4a5a" stroke-width="7.0" stroke-linejoin="round" stroke-linecap="round"/>
<path d="M142.0,598.6 142.7,599.5 143.4,599.3 144.2,602.0 144.9,610.1 145.6,598.5 146.3,608.4 147.0,609.8 147.8,603.6 148.5,602.4 149.2,607.0 149.9,610.0 150.6,617.8 151.4,608.9 152.1,611.7 152.8,603.8 153.5,602.2 154.2,598.9 155.0,601.2 155.7,604.3 156.4,606.5 157.1,600.7 157.8,609.0 158.6,605.5 159.3,603.4 160.0,602.9 160.7,618.5 161.4,606.6 162.2,597.4 162.9,602.2 163.6,613.2 164.3,603.7 165.0,610.7 165.8,611.6 166.5,596.8 167.2,618.7 167.9,605.2 168.6,601.7 169.4,603.9 170.1,608.2 170.8,607.4 171.5,607.6 172.2,603.2 173.0,610.7 173.7,611.5 174.4,612.7 175.1,609.4 175.8,612.7 176.6,613.4 177.3,607.9 178.0,608.5 178.7,607.2 179.4,606.9 180.2,607.9 180.9,597.7 181.6,602.9 182.3,608.6 183.0,595.5 183.8,597.9 184.5,616.0 185.2,593.1 185.9,601.1 186.6,604.2 187.4,600.6 188.1,598.8 188.8,600.0 189.5,600.1 190.2,599.3 191.0,602.1 191.7,607.6 192.4,602.4 193.1,613.4 193.8,603.4 194.6,603.6 195.3,602.4 196.0,598.8 196.7,601.4 197.4,600.7 198.2,595.1 198.9,602.2 199.6,601.3 200.3,600.4 201.0,596.6 201.8,588.3 202.5,604.4 203.2,598.1 203.9,589.7 204.6,600.8 205.4,595.3 206.1,600.7 206.8,597.5 207.5,602.3 208.2,598.6 209.0,598.7 209.7,598.1 210.4,602.3 211.1,592.1 211.8,602.0 212.6,599.9 213.3,594.8 214.0,596.9 214.7,595.0 215.4,597.0 216.2,600.4 216.9,593.8 217.6,599.4 218.3,600.1 219.0,598.8 219.8,602.4 220.5,595.7 221.2,602.5 221.9,605.6 222.6,595.7 223.4,594.9 224.1,595.4 224.8,597.5 225.5,592.6 226.2,594.0 227.0,587.8 227.7,590.5 228.4,590.4 229.1,589.7 229.8,592.3 230.6,596.5 231.3,590.1 232.0,588.4 232.7,594.0 233.4,593.4 234.2,587.3 234.9,592.7 235.6,582.2 236.3,589.0 237.0,588.3 237.8,593.5 238.5,587.2 239.2,588.5 239.9,589.7 240.6,591.8 241.4,591.5 242.1,583.8 242.8,589.9 243.5,586.2 244.2,588.2 245.0,586.8 245.7,580.0 246.4,581.0 247.1,578.5 247.8,580.0 248.6,583.9 249.3,576.4 250.0,572.4 250.7,583.5 251.4,568.9 252.2,571.4 252.9,570.0 253.6,563.8 254.3,570.7 255.0,576.2 255.8,564.6 256.5,563.8 257.2,561.8 257.9,555.0 258.6,562.0 259.4,548.3 260.1,554.3 260.8,558.4 261.5,559.7 262.2,551.7 263.0,558.0 263.7,563.4 264.4,552.3 265.1,550.4 265.8,549.9 266.6,547.0 267.3,544.4 268.0,548.0 268.7,544.0 269.4,538.5 270.2,536.0 270.9,529.1 271.6,528.9 272.3,525.6 273.0,521.6 273.8,526.5 274.5,520.4 275.2,519.5 275.9,523.1 276.6,513.4 277.4,515.1 278.1,505.8 278.8,506.5 279.5,509.8 280.2,503.9 281.0,497.4 281.7,488.8 282.4,500.0 283.1,493.1 283.8,497.1 284.6,493.3 285.3,488.8 286.0,487.6 286.7,488.6 287.4,483.6 288.2,477.7 288.9,480.3 289.6,475.5 290.3,473.7 291.0,474.1 291.8,470.8 292.5,470.4 293.2,464.2 293.9,460.8 294.6,458.4 295.4,457.6 296.1,451.2 296.8,449.1 297.5,443.9 298.2,440.4 299.0,439.1 299.7,446.0 300.4,431.7 301.1,430.8 301.8,426.8 302.6,422.5 303.3,419.8 304.0,421.7 304.7,412.7 305.4,418.6 306.2,409.4 306.9,403.1 307.6,401.4 308.3,399.6 309.0,395.8 309.8,399.3 310.5,395.3 311.2,393.5 311.9,389.6 312.6,391.3 313.4,388.6 314.0,391.5 314.1,388.9 314.8,390.4 315.5,393.1 316.2,395.3 317.0,399.1 317.7,402.6 318.4,409.4 319.1,407.7 319.8,413.3 320.6,420.4 321.3,420.2 322.0,421.2 322.7,425.3 323.4,430.7 324.2,431.2 324.9,440.7 325.6,440.6 326.3,443.6 327.0,445.4 327.8,452.2 328.5,455.2 329.2,459.0 329.9,464.6 330.6,479.4 331.4,475.0 332.1,480.1 332.8,490.9 333.5,494.7 334.2,496.7 335.0,505.7 335.7,502.3 336.4,509.4 337.1,510.3 337.8,523.4 338.6,523.8 339.3,534.4 340.0,534.3 340.7,536.5 341.4,536.1 342.2,539.3 342.9,544.1 343.6,550.9 344.3,548.2 345.0,546.7 345.8,559.7 346.5,562.7 347.2,559.5 347.9,566.6 348.6,571.3 349.4,573.9 350.1,562.8 350.8,575.3 351.5,575.1 352.2,586.1 353.0,582.0 353.7,580.3 354.4,586.0 355.1,589.2 355.8,584.8 356.6,586.9 357.3,590.3 358.0,592.8 358.7,590.3 359.4,590.3 360.2,592.2 360.9,598.3 361.6,602.2 362.3,597.4 363.0,602.0 363.8,609.0 364.5,602.5 365.2,602.5 365.9,602.4 366.6,607.5 367.4,607.4 368.1,608.3 368.8,604.2 369.5,610.5 370.2,611.3 371.0,609.8 371.7,615.7 372.4,605.9 373.1,615.4 373.8,613.0 374.6,617.4 375.3,622.1 376.0,616.2 376.7,616.2 377.4,617.7 378.2,623.4 378.9,624.8 379.6,621.3 380.3,624.0 381.0,629.0 381.8,626.2 382.5,620.4 383.2,624.0 383.9,626.5 384.6,631.3 385.4,625.7 386.1,644.9 386.8,632.2 387.5,640.8 388.2,634.3 389.0,642.2 389.7,639.6 390.4,644.5 391.1,650.9 391.8,647.3 392.6,646.1 393.3,641.6 394.0,642.0 394.7,634.8 395.4,650.2 396.2,650.1 396.9,649.7 397.6,642.1 398.3,657.3 399.0,644.4 399.8,650.7 400.5,641.3 401.2,645.5 401.9,652.9 402.6,652.4 403.4,644.4 404.1,648.5 404.8,653.5 405.5,642.1 406.2,652.5 407.0,643.6 407.7,652.4 408.4,649.0 409.1,654.1 409.8,645.8 410.6,649.1 411.3,649.2 412.0,647.0 412.7,649.8 413.4,647.0 414.2,648.9 414.9,653.9 415.6,650.1 416.3,655.7 417.0,654.4 417.8,659.6 418.5,647.3 419.2,655.9 419.9,657.7 420.6,655.7 421.4,657.1 422.1,658.3 422.8,646.4 423.5,654.7 424.2,654.7 425.0,651.8 425.7,647.4 426.4,653.3 427.1,652.2 427.8,660.7 428.6,658.2 429.3,649.0 430.0,648.8 430.7,649.7 431.4,652.9 432.2,650.3 432.9,661.2 433.6,648.6 434.3,653.0 435.0,654.1 435.8,655.2 436.5,649.9 437.2,652.8 437.9,654.5 438.6,655.2 439.4,651.7 440.1,651.4 440.8,655.0 441.5,661.7 442.2,649.9 443.0,657.4 443.7,661.2 444.4,649.6 445.1,661.0 445.8,660.9 446.6,656.5 447.3,659.4 448.0,661.4 448.7,655.6 449.4,657.0 450.2,652.5 450.9,650.7 451.6,656.4 452.3,655.7 453.0,661.6 453.8,654.3 454.5,645.8 455.2,658.4 455.9,658.3 456.6,658.5 457.4,653.6 458.1,651.2 458.8,651.2 459.5,658.4 460.2,655.3 461.0,653.3 461.7,652.8 462.4,648.5 463.1,647.4 463.8,648.2 464.6,648.5 465.3,644.7 466.0,640.9 466.7,642.0 467.4,641.9 468.2,641.0 468.9,635.1 469.6,632.2 470.3,628.3 471.0,625.4 471.8,620.6 472.5,615.2 473.2,605.4 473.9,603.6 474.6,582.7 475.4,570.7 476.1,562.5 476.8,558.5 477.0,558.3 477.5,559.6 478.2,564.8 479.0,575.4 479.7,587.3 480.4,600.3 481.1,610.3 481.8,618.6 482.6,626.3 483.3,631.5 484.0,639.6 484.7,644.4 485.4,650.2 486.2,654.9 486.9,658.3 487.6,659.7 488.3,661.8 489.0,662.8 489.8,659.3 490.5,657.8 491.2,662.8 491.9,657.7 492.6,659.0 493.4,657.8 494.1,660.0 494.8,652.5 495.5,658.6 496.2,656.6 497.0,647.1 497.7,652.5 498.4,651.4 499.1,653.1 499.8,651.9 500.0,650.1 500.6,651.2 501.3,653.2 502.0,652.8 502.7,652.5 503.4,660.1 504.2,655.7 504.9,651.1 505.6,656.4 506.3,657.4 507.0,648.0 507.8,658.8 508.5,655.5 509.2,651.7 509.9,661.2 510.6,662.7 511.4,663.2 512.1,661.5 512.8,660.7 513.5,664.3 514.2,665.8 515.0,669.4 515.7,667.0 516.4,665.4 517.1,658.4 517.8,662.4 518.6,657.7 519.3,664.4 520.0,663.7 520.7,665.4 521.4,662.6 522.2,671.9 522.9,657.5 523.6,660.7 524.3,658.1 525.0,657.7 525.8,651.2 526.5,654.6 527.2,649.4 527.9,655.2 528.6,653.3 529.4,655.9 530.1,648.4 530.8,649.9 531.5,653.1 532.2,645.1 533.0,659.4 533.7,654.7 534.4,649.6 535.1,659.1 535.8,656.6 536.6,642.6 537.3,649.9 538.0,648.3 538.7,650.1 539.4,646.3 540.2,646.6 540.9,648.4 541.6,640.3 542.3,646.9 543.0,648.5 543.8,645.0 544.5,645.3 545.2,644.4 545.9,640.4 546.6,636.7 547.4,632.0 548.1,626.0 548.8,624.8 549.5,617.2 550.2,609.2 551.0,601.3 551.7,594.2 552.4,587.9 553.0,586.5 553.1,587.1 553.8,590.0 554.6,594.3 555.3,600.2 556.0,611.0 556.7,614.8 557.4,616.1 558.2,618.4 558.9,620.0 559.6,620.9 560.3,622.9 561.0,627.1 561.8,627.4 562.5,630.8 563.2,627.4 563.9,627.3 564.6,632.0 565.4,628.9 566.1,630.0 566.8,630.2 567.5,626.8 568.2,625.4 569.0,628.8 569.7,620.4 570.4,627.5 571.1,620.2 571.8,625.2 572.6,622.4 573.3,620.6 574.0,619.1 574.7,616.8 575.4,612.9 576.2,611.5 576.9,605.6 577.6,600.3 578.3,593.1 579.0,586.4 579.8,588.5 580.5,578.7 581.2,570.9 581.9,563.1 582.6,557.9 583.4,553.0 584.1,550.4 584.8,548.3 585.0,548.0 585.5,549.1 586.2,553.9 587.0,562.8 587.7,570.7 588.4,579.6 589.1,592.6 589.8,599.4 590.6,604.2 591.3,608.5 592.0,614.0 592.7,621.4 593.4,625.6 594.2,630.1 594.9,631.9 595.6,633.7 596.3,633.0 597.0,628.1 597.8,616.3 598.5,605.0 599.2,594.0 599.9,578.0 600.6,567.1 601.4,560.4 602.1,549.9 602.8,541.2 603.5,532.8 604.2,526.9 605.0,524.9 605.0,525.5 605.7,527.1 606.4,533.4 607.1,544.6 607.8,553.2 608.6,564.5 609.3,579.0 610.0,585.1 610.7,590.5 611.4,599.7 612.2,606.3 612.9,615.0 613.6,622.2 614.3,625.5 615.0,631.5 615.8,633.6 616.5,635.1 617.2,634.4 617.9,636.9 618.6,639.4 619.4,645.4 620.1,643.9 620.8,634.3 621.5,639.7 622.2,639.1 623.0,642.6 623.7,645.3 624.4,653.0 625.1,645.8 625.8,649.9 626.6,647.9 627.3,648.1 628.0,655.0 628.7,645.5 629.4,652.6 630.2,658.3 630.9,663.3 631.6,650.0 632.3,644.2 633.0,648.6 633.8,650.1 634.5,654.4 635.2,655.1 635.9,659.7 636.6,655.3 637.4,658.2 638.1,652.4 638.8,656.5 639.5,658.9 640.2,653.1 641.0,661.8 641.7,664.8 642.4,663.5 643.1,665.1 643.8,665.6 644.6,662.7 645.3,668.3 646.0,667.4 646.7,671.0 647.4,672.2 648.2,673.5 648.9,670.4 649.6,675.3 650.3,681.2 651.0,679.8 651.8,677.6 652.5,674.4 653.2,681.8 653.9,679.7 654.6,671.8 655.4,678.7 656.1,684.5 656.8,670.6 657.5,679.7 658.2,677.0 659.0,678.8 659.7,677.4 660.4,675.7 661.1,670.2 661.8,676.6 662.6,676.8 663.3,675.6 664.0,667.6 664.7,673.0 665.4,677.5 666.2,671.3 666.9,671.4 667.6,669.6 668.3,668.9 669.0,664.5 669.8,657.9 670.5,648.5 671.2,639.1 671.9,631.3 672.6,622.5 673.4,611.9 674.1,603.1 674.8,598.6 675.0,597.8 675.5,599.3 676.2,604.4 677.0,612.4 677.7,623.8 678.4,631.8 679.1,642.8 679.8,653.4 680.6,660.9 681.3,670.1 682.0,677.9 682.7,682.2 683.4,685.4 684.2,687.1 684.9,690.5 685.6,691.8 686.3,689.6 687.0,694.2 687.8,692.4 688.5,698.3 689.2,702.2 689.9,696.5 690.6,693.7 691.4,700.1 692.1,697.6 692.8,698.7 693.5,696.6 694.2,693.8 695.0,697.4 695.7,691.6 696.4,697.3 697.1,695.1 697.8,688.3 698.6,696.0 699.3,693.9 700.0,692.6 700.7,693.6 701.4,696.6 702.2,689.5 702.9,689.7 703.6,696.0 704.3,694.0 705.0,687.1 705.8,693.6 706.5,682.0 707.2,695.4 707.9,693.9 708.6,694.6 709.4,687.5 710.1,690.0 710.8,695.9 711.5,687.7 712.2,694.6 713.0,692.0 713.7,693.3 714.4,689.7 715.1,697.5 715.8,695.8 716.6,695.8 717.3,701.6 718.0,692.0 718.7,693.0 719.4,689.2 720.2,703.6 720.9,691.7 721.6,695.2 722.3,683.8 723.0,691.7 723.8,696.7 724.5,693.6 725.2,689.6 725.9,694.4 726.6,691.6 727.4,694.3 728.1,689.7 728.8,692.3 729.5,688.1 730.2,693.5 731.0,688.8 731.7,688.5 732.4,685.9 733.1,695.8 733.8,687.3 734.6,685.5 735.3,690.3 736.0,682.5 736.7,688.1 737.4,689.4 738.2,672.1 738.9,686.1 739.6,684.2 740.3,682.5 741.0,682.4 741.8,670.9 742.5,681.6 743.2,680.1 743.9,668.4 744.6,677.4 745.4,668.0 746.1,676.9 746.8,673.0 747.5,675.4 748.2,669.7 749.0,671.6 749.7,669.2 750.4,670.9 751.1,674.1 751.8,679.6 752.6,659.1 753.3,670.0 754.0,665.7 754.7,664.6 755.4,663.4 756.2,662.5 756.9,661.1 757.6,664.6 758.3,661.2 759.0,657.0 759.8,654.2 760.5,653.9 761.2,651.4 761.9,658.3 762.6,639.3 763.4,640.2 764.1,640.4 764.8,641.2 765.5,638.2 766.2,637.8 767.0,628.4 767.7,631.9 768.4,630.7 769.1,627.0 769.8,624.8 770.6,628.0 771.3,628.5 772.0,623.3 772.7,620.0 773.4,624.0 774.2,625.9 774.9,620.0 775.6,618.0 776.3,613.9 777.0,614.1 777.8,614.1 778.5,605.1 779.2,607.3 779.9,598.9 780.6,601.3 781.4,596.4 782.1,590.6 782.8,587.4 783.5,587.2 784.2,576.0 785.0,573.7 785.7,566.8 786.4,559.3 787.1,556.6 787.8,543.6 788.6,540.4 789.3,533.3 790.0,529.9 790.7,526.4 791.4,518.4 792.2,518.8 792.9,514.9 793.6,509.8 794.3,506.4 795.0,502.9 795.8,496.1 796.5,491.3 797.2,479.3 797.9,470.7 798.6,471.2 799.4,458.9 800.1,457.4 800.8,448.9 801.5,444.0 802.2,436.8 803.0,433.5 803.7,428.8 804.4,423.8 805.1,418.8 805.8,412.2 806.6,414.7 807.3,412.3 808.0,412.4 808.7,407.7 809.4,409.8 810.0,408.3 810.2,408.9 810.9,412.5 811.6,411.2 812.3,413.2 813.0,412.5 813.8,413.9 814.5,415.5 815.2,413.4 815.9,418.8 816.6,417.7 817.4,420.5 818.1,424.6 818.8,424.4 819.5,429.2 820.2,429.7 821.0,435.7 821.7,439.6 822.4,443.7 823.1,452.1 823.8,456.0 824.6,461.8 825.3,468.1 826.0,476.0 826.7,481.3 827.4,485.0 828.2,488.5 828.9,498.6 829.6,497.8 830.3,502.7 831.0,508.6 831.8,511.0 832.5,513.9 833.2,518.1 833.9,525.0 834.6,530.8 835.4,536.2 836.1,536.7 836.8,543.5 837.5,547.3 838.2,549.9 839.0,561.6 839.7,556.9 840.4,560.5 841.1,566.9 841.8,574.6 842.6,572.9 843.3,581.5 844.0,578.2 844.7,583.6 845.4,587.3 846.2,591.2 846.9,595.8 847.6,599.0 848.3,602.3 849.0,603.8 849.8,611.1 850.5,613.4 851.2,617.2 851.9,622.5 852.6,624.1 853.4,626.4 854.1,631.9 854.8,629.3 855.5,630.0 856.2,635.0 857.0,635.8 857.7,640.6 858.4,643.1 859.1,646.2 859.8,649.4 860.6,652.5 861.3,654.2 862.0,655.6 862.7,656.6 863.4,658.1 864.2,661.2 864.9,662.5 865.6,662.3 866.3,664.7 867.0,670.0 867.8,670.0 868.5,669.2 869.2,673.4 869.9,675.8 870.6,672.7 871.4,681.3 872.1,681.2 872.8,678.9 873.5,683.6 874.2,684.0 875.0,684.6 875.7,681.5 876.4,683.7 877.1,685.5 877.8,686.9 878.6,686.8 879.3,684.6 880.0,687.0 880.7,692.5 881.4,691.0 882.2,698.2 882.9,698.3 883.6,694.4 884.3,696.7 885.0,691.6 885.8,703.4 886.5,702.2 887.2,695.1 887.9,698.8 888.6,700.4 889.4,705.3 890.1,712.1 890.8,702.3 891.5,705.2 892.2,708.8 893.0,708.9 893.7,708.5 894.4,714.1 895.1,708.8 895.8,708.2 896.6,714.7 897.3,715.8 898.0,723.1 898.7,714.7 899.4,714.1 900.2,717.1 900.9,717.3 901.6,718.9 902.3,718.3 903.0,722.7 903.8,722.1 904.5,729.5 905.2,718.4 905.9,718.0 906.6,724.0 907.4,718.4 908.1,719.0 908.8,719.5 909.5,717.9 910.2,724.7 911.0,728.4 911.7,725.7 912.4,730.3 913.1,723.8 913.8,722.4 914.6,726.7 915.3,722.4 916.0,721.6 916.7,723.7 917.4,728.3 918.2,726.8 918.9,725.7 919.6,724.6 920.3,724.9 921.0,725.6 921.8,723.5 922.5,720.7 923.2,720.2 923.9,715.5 924.6,706.8 925.4,709.9 926.1,706.2 926.8,700.8 927.5,696.4 928.0,694.6 928.2,695.8 929.0,699.3 929.7,705.4 930.4,709.4 931.1,719.8 931.8,717.5 932.6,718.6 933.3,723.3 934.0,726.9 934.7,721.2 935.4,726.4 936.2,731.1 936.9,732.5 937.6,727.6 938.3,729.8 939.0,727.7 939.8,732.7 940.5,730.4 941.2,732.0 941.9,737.6 942.6,732.7 943.4,731.9 944.1,735.7 944.8,736.3 945.5,736.4 946.2,738.5 947.0,731.8 947.7,735.2 948.4,739.0 949.1,734.0 949.8,738.1 950.6,736.6 951.3,733.9 952.0,732.8 952.7,733.1 953.4,732.9 954.2,726.4 954.9,727.4 955.6,728.0 956.3,727.1 957.0,727.0 957.8,726.4 958.5,727.0 959.2,725.4 959.9,725.6 960.6,724.4 961.4,721.7 962.1,718.7 962.8,716.4 963.5,715.8 964.2,713.3 965.0,713.1 965.0,713.5 965.7,714.4 966.4,716.2 967.1,721.1 967.8,730.9 968.6,728.6 969.3,733.7 970.0,732.4 970.7,734.8 971.4,737.3 972.2,734.6 972.9,742.2 973.6,733.1 974.3,738.5 975.0,738.0 975.8,741.0 976.5,742.4 977.2,743.9 977.9,747.5 978.6,740.8 979.4,739.8 980.1,743.6 980.8,741.3 981.5,737.3 982.2,737.3 983.0,739.7 983.7,742.6 984.4,744.2 985.1,744.7 985.8,739.9 986.6,745.4 987.3,741.6 988.0,746.2 988.7,744.0 989.4,749.8 990.2,746.6 990.9,744.2 991.6,743.2 992.3,746.2 993.0,747.8 993.8,748.5 994.5,744.1 995.2,743.8 995.9,748.9 996.6,747.0 997.4,750.0 998.1,748.5 998.8,752.0 999.5,749.2 1000.2,744.1 1001.0,746.4 1001.7,749.2 1002.4,744.8 1003.1,747.9 1003.8,749.8 1004.6,751.2 1005.3,753.4 1006.0,743.9 1006.7,751.6 1007.4,745.8 1008.2,748.7 1008.9,746.2 1009.6,751.3 1010.3,748.5 1011.0,749.4 1011.8,750.1 1012.5,748.7 1013.2,747.2 1013.9,753.1 1014.6,750.8 1015.4,751.4 1016.1,744.3 1016.8,743.7 1017.5,754.1 1018.2,751.5 1019.0,744.5 1019.7,750.7 1020.4,749.8 1021.1,746.8 1021.8,748.5 1022.6,754.9 1023.3,747.7 1024.0,752.6 1024.7,747.6 1025.4,740.7 1026.2,759.7 1026.9,751.9 1027.6,748.6 1028.3,749.0 1029.0,747.7 1029.8,742.5 1030.5,751.4 1031.2,751.9 1031.9,749.0 1032.6,749.3 1033.4,746.6 1034.1,751.0 1034.8,744.7 1035.5,750.0 1036.2,754.4 1037.0,749.5 1037.7,758.0 1038.4,747.3 1039.1,749.7 1039.8,750.4 1040.6,753.1 1041.3,753.9 1042.0,751.2 1042.7,746.3 1043.4,754.6 1044.2,752.4 1044.9,752.8 1045.6,746.1 1046.3,751.9 1047.0,750.1 1047.8,753.3 1048.5,755.4 1049.2,748.2 1049.9,750.3 1050.6,750.7 1051.4,748.4 1052.1,752.1 1052.8,752.0 1053.5,748.1 1054.2,748.1 1055.0,751.3 1055.7,741.5 1056.4,751.4 1057.1,752.9 1057.8,752.9 1058.6,747.9 1059.3,755.5 1060.0,756.3 1060.7,747.4 1061.4,755.3 1062.2,754.2 1062.9,753.0 1063.6,748.4 1064.3,753.4 1065.0,747.5 1065.8,750.7 1066.5,752.9 1067.2,752.1 1067.9,749.9 1068.6,751.7 1069.4,750.3 1070.1,751.4 1070.8,748.5 1071.5,742.9 1072.2,749.1 1073.0,747.2 1073.7,753.7 1074.4,757.8 1075.1,752.5 1075.8,758.5 1076.6,747.6 1077.3,750.1 1078.0,747.4 1078.7,752.3 1079.4,750.8 1080.2,747.7 1080.9,754.3 1081.6,750.3 1082.3,755.7 1083.0,752.8 1083.8,754.3 1084.5,753.9 1085.2,750.4 1085.9,749.6 1086.6,748.4 1087.4,747.3 1088.1,759.6 1088.8,746.2 1089.5,753.9 1090.2,747.6 1091.0,747.9 1091.7,756.0 1092.4,749.3 1093.1,747.5 1093.8,754.1 1094.6,746.2 1095.3,747.4 1096.0,753.5 1096.7,753.7 1097.4,749.5 1098.2,747.2 1098.9,755.6 1099.6,749.5 1100.0,747.8 1100.3,749.8 1101.0,752.7 1101.8,741.8 1102.5,746.6 1103.2,751.4 1103.9,751.0 1104.6,749.7 1105.4,749.1 1106.1,751.2 1106.8,752.5 1107.5,748.1 1108.2,748.5 1109.0,751.8 1109.7,748.8 1110.4,746.1 1111.1,749.3 1111.8,746.8 1112.6,751.5 1113.3,752.3 1114.0,748.2 1114.7,749.7 1115.4,751.1 1116.2,753.6 1116.9,756.5 1117.6,751.7 1118.3,752.5 1119.0,754.2 1119.8,754.8 1120.5,754.0 1121.2,747.8 1121.9,751.3 1122.6,752.1 1123.4,751.2 1124.1,748.2 1124.8,746.1 1125.5,755.2 1126.2,752.9 1127.0,751.6 1127.7,748.8 1128.4,750.0 1129.1,751.0 1129.8,753.4 1130.6,751.7 1131.3,749.3 1132.0,748.4 1132.7,748.4 1133.4,756.6 1134.2,749.7 1134.9,755.7 1135.6,752.6 1136.3,756.8 1137.0,749.0 1137.8,754.0 1138.5,749.5 1139.2,749.6 1139.9,750.0 1140.6,748.5 1141.4,749.6 1142.1,751.3 1142.8,756.6 1143.5,750.9 1144.2,747.9 1145.0,753.8 1145.7,755.9 1146.4,745.2 1147.1,753.4 1147.8,748.3 1148.6,747.1 1149.3,753.9 1150.0,756.1 1150.7,761.4 1151.4,752.2 1152.2,751.1 1152.9,752.7 1153.6,753.8 1154.3,754.6 1155.0,755.9 1155.8,753.3 1156.5,753.8 1157.2,752.8 1157.9,750.2 1158.6,755.6 1159.4,756.2 1160.1,754.2 1160.8,746.2 1161.5,756.2 1162.2,749.6 1163.0,760.8 1163.7,757.6 1164.4,753.6 1165.1,756.7 1165.8,749.3 1166.6,750.9 1167.3,749.4 1168.0,754.0 1168.7,751.2 1169.4,751.5 1170.2,751.1 1170.9,754.6 1171.6,750.5 1172.3,749.1 1173.0,750.4 1173.8,751.2 1174.5,750.9 1175.2,746.7 1175.9,748.0 1176.6,748.3 1177.4,746.9 1178.1,742.8 1178.8,747.5 1179.5,744.9 1180.2,747.4 1181.0,744.9 1181.7,743.5 1182.4,740.7 1183.1,742.2 1183.8,739.8 1184.6,736.7 1185.3,731.0 1186.0,728.1 1186.7,727.3 1187.4,723.5 1188.0,724.9 1188.2,724.5 1188.9,726.2 1189.6,729.8 1190.3,731.2 1191.0,736.6 1191.8,739.5 1192.5,741.8 1193.2,744.5 1193.9,745.2 1194.6,748.1 1195.4,749.9 1196.1,750.1 1196.8,756.6 1197.5,757.1 1198.2,758.3 1199.0,757.5 1199.7,756.3 1200.4,759.3 1201.1,757.1 1201.8,766.5 1202.6,763.2 1203.3,755.1 1204.0,762.5 1204.7,763.4 1205.4,758.6 1206.2,754.4 1206.9,760.5 1207.6,761.2 1208.3,761.3 1209.0,757.3 1209.8,759.1 1210.5,759.0 1211.2,758.9 1211.9,757.1 1212.6,761.8 1213.4,760.4 1214.1,757.6 1214.8,759.9 1215.5,761.4 1216.2,759.6 1217.0,759.5 1217.7,760.8 1218.4,756.4 1219.1,760.5 1219.8,756.6 1220.6,759.0 1221.3,761.9 1222.0,757.1 1222.7,761.6 1223.4,760.2 1224.2,762.1 1224.9,754.0 1225.6,748.5 1226.3,755.5 1227.0,764.0 1227.8,758.9 1228.5,757.3 1229.2,758.1 1229.9,759.3 1230.6,757.5 1231.4,764.4 1232.1,759.2 1232.8,754.1 1233.5,754.1 1234.2,757.3 1235.0,757.6 1235.7,763.6 1236.4,760.2 1237.1,760.3 1237.8,754.5 1238.6,758.5 1239.3,755.4 1240.0,757.7 1240.7,754.1 1241.4,760.8 1242.2,760.9 1242.9,757.9 1243.6,754.2 1244.3,759.8 1245.0,757.6 1245.8,752.8 1246.5,758.4 1247.2,759.0 1247.9,757.8 1248.6,746.6 1249.4,758.3 1250.1,759.0 1250.8,754.5 1251.5,759.2 1252.2,757.5 1253.0,762.9 1253.7,746.2 1254.4,755.0 1255.1,757.2 1255.8,751.5 1256.6,756.0 1257.3,764.9 1258.0,751.2 1258.7,759.5 1259.4,757.9 1260.2,752.8 1260.9,753.0 1261.6,752.7 1262.3,756.0 1263.0,748.4 1263.8,759.7 1264.5,750.6 1265.2,753.8 1265.9,753.5 1266.6,756.8 1267.4,751.8 1268.1,752.2 1268.8,757.8 1269.5,759.0 1270.2,754.1 1271.0,753.1 1271.7,754.8 1272.4,754.2 1273.1,753.9 1273.8,750.9 1274.6,747.4 1275.3,754.2 1276.0,753.3 1276.7,756.5 1277.4,756.4 1278.2,757.8 1278.9,751.6 1279.6,754.9 1280.3,749.2 1281.0,753.4 1281.8,753.9 1282.5,750.3 1283.2,751.9 1283.9,759.0 1284.6,749.6 1285.4,754.8 1286.1,749.0 1286.8,754.1 1287.5,744.2 1288.2,747.6 1289.0,750.4 1289.7,755.4 1290.4,750.3 1291.1,747.3 1291.8,749.2 1292.6,752.1 1293.3,745.7 1294.0,749.6 1294.7,748.6 1295.4,747.7 1296.2,749.5 1296.9,746.0 1297.6,749.1 1298.3,748.8 1299.0,751.3 1299.8,747.2 1300.5,745.2 1301.2,742.2 1301.9,743.3 1302.6,740.6 1303.4,747.4 1304.1,736.7 1304.8,743.6 1305.5,743.2 1306.2,745.7 1307.0,739.5 1307.7,746.2 1308.4,738.5 1309.1,729.8 1309.8,734.0 1310.6,735.6 1311.3,740.2 1312.0,735.9 1312.7,733.0 1313.4,732.2 1314.2,733.4 1314.9,731.7 1315.6,731.8 1316.3,733.7 1317.0,726.6 1317.8,727.5 1318.5,728.9 1319.2,723.4 1319.9,728.0 1320.6,728.9 1321.4,724.6 1322.1,725.4 1322.8,721.2 1323.5,721.1 1324.2,720.7 1325.0,718.7 1325.7,721.0 1326.4,715.3 1327.1,717.8 1327.8,713.0 1328.6,717.2 1329.3,715.4 1330.0,711.4 1330.7,705.6 1331.4,705.6 1332.2,699.7 1332.9,707.3 1333.6,702.5 1334.3,700.4 1335.0,700.9 1335.8,695.7 1336.5,696.7 1337.2,697.7 1337.9,697.3 1338.6,699.0 1339.4,689.6 1340.1,692.4 1340.8,686.8 1341.5,684.0 1342.2,685.9 1343.0,683.1 1343.7,677.6 1344.4,679.6 1345.1,682.9 1345.8,671.9 1346.6,672.4 1347.3,675.4 1348.0,671.1 1348.7,666.7 1349.4,667.6 1350.2,663.2 1350.9,660.5 1351.6,660.8 1352.3,655.8 1353.0,656.7 1353.8,655.5 1354.5,649.1 1355.2,646.4 1355.9,643.3 1356.6,640.9 1357.4,635.6 1358.1,633.7 1358.8,631.1 1359.5,623.8 1360.2,622.4 1361.0,620.5 1361.7,617.4 1362.4,612.6 1363.1,613.9 1363.8,608.1 1364.6,611.9 1365.3,603.2 1366.0,604.8 1366.7,602.0 1367.4,600.5 1368.2,599.5 1368.9,598.9 1369.0,600.8 1369.6,600.4 1370.3,601.7 1371.0,599.7 1371.8,604.9 1372.5,604.2 1373.2,601.6 1373.9,606.9 1374.6,608.7 1375.4,604.3 1376.1,606.1 1376.8,615.4 1377.5,612.0 1378.2,612.3 1379.0,611.6 1379.7,617.5 1380.4,615.9 1381.1,619.7 1381.8,620.6 1382.6,624.7 1383.3,624.5 1384.0,623.4 1384.7,627.2 1385.4,629.3 1386.2,629.1 1386.9,629.8 1387.6,634.1 1388.3,639.3 1389.0,636.9 1389.8,636.8 1390.5,642.1 1391.2,642.1 1391.9,645.6 1392.6,647.2 1393.4,647.9 1394.1,652.2 1394.8,651.2 1395.5,653.6 1396.2,649.1 1397.0,657.7 1397.7,663.5 1398.4,667.2 1399.1,674.5 1399.8,668.2 1400.6,669.5 1401.3,678.2 1402.0,671.3 1402.7,679.5 1403.4,681.3 1404.2,685.7 1404.9,683.5 1405.6,686.8 1406.3,684.1 1407.0,689.5 1407.8,693.3 1408.5,694.5 1409.2,696.6 1409.9,704.9 1410.6,699.5 1411.4,701.1 1412.1,703.1 1412.8,706.0 1413.5,706.9 1414.2,709.4 1415.0,709.7 1415.7,716.3 1416.4,712.0 1417.1,714.3 1417.8,717.1 1418.6,722.3 1419.3,717.4 1420.0,717.4 1420.7,722.2 1421.4,719.6 1422.2,717.5 1422.9,718.4 1423.6,722.1 1424.3,720.5 1425.0,727.7 1425.8,728.0 1426.5,730.9 1427.2,728.0 1427.9,727.3 1428.6,730.7 1429.4,731.4 1430.1,728.1 1430.8,739.9 1431.5,732.5 1432.2,734.8 1433.0,731.9 1433.7,736.7 1434.4,740.6 1435.1,735.0 1435.8,733.5 1436.6,737.1 1437.3,737.7 1438.0,739.7 1438.7,734.5 1439.4,741.9 1440.2,740.5 1440.9,739.6 1441.6,737.7 1442.3,742.0 1443.0,744.8 1443.8,743.8 1444.5,744.3 1445.2,743.8 1445.9,744.9 1446.6,741.0 1447.4,753.6 1448.1,748.2 1448.8,745.3 1449.5,746.6 1450.2,743.2 1451.0,741.8 1451.7,748.9 1452.4,746.3 1453.1,745.6 1453.8,748.2 1454.6,751.1 1455.3,747.1 1456.0,751.6 1456.7,752.3 1457.4,752.9 1458.2,753.1 1458.9,752.4 1459.6,752.0 1460.3,755.7 1461.0,751.3 1461.8,757.3 1462.5,751.4 1463.2,754.6 1463.9,756.4 1464.6,751.7 1465.4,760.1 1466.1,760.4 1466.8,755.2 1467.5,758.1 1468.2,761.3 1469.0,761.8 1469.7,763.0 1470.4,756.9 1471.1,761.0 1471.8,765.1 1472.6,758.9 1473.3,760.0 1474.0,763.3 1474.7,763.4 1475.4,761.0 1476.2,762.5 1476.9,765.1 1477.6,766.3 1478.3,770.7 1479.0,768.9 1479.8,767.5 1480.5,767.2 1481.2,769.4 1481.9,774.6 1482.6,767.3 1483.4,766.3 1484.1,765.7 1484.8,769.2 1485.5,766.5 1486.2,764.9 1487.0,767.8 1487.7,768.0 1488.4,772.1 1489.1,773.5 1489.8,769.1 1490.6,769.0 1491.3,772.3 1492.0,769.9 1492.7,768.8 1493.4,771.2 1494.2,767.0 1494.9,770.2 1495.6,773.1 1496.3,764.5 1497.0,768.4 1497.8,766.3 1498.5,769.1 1499.2,770.8 1499.9,763.6 1500.6,764.2 1501.4,762.1 1502.1,767.3 1502.8,759.7 1503.5,759.8 1504.2,760.8 1505.0,756.1 1505.7,753.2 1506.4,751.8 1507.1,751.0 1507.8,751.1 1508.6,750.5 1509.3,750.6 1510.0,748.5 1510.7,749.1 1511.4,747.9 1512.0,748.4 1512.2,746.4 1512.9,746.5 1513.6,751.0 1514.3,751.9 1515.0,747.8 1515.8,753.5 1516.5,756.5 1517.2,758.9 1517.9,762.1 1518.6,760.9 1519.4,760.0 1520.1,759.2 1520.8,759.0 1521.5,760.2 1522.2,760.0 1523.0,763.1 1523.7,766.3 1524.4,765.7 1525.1,762.9 1525.8,767.2 1526.6,768.7 1527.3,766.4 1528.0,766.6 1528.7,767.5 1529.4,769.0 1530.2,763.5 1530.9,766.3 1531.6,765.4 1532.3,769.0 1533.0,770.4 1533.8,768.1 1534.5,772.3 1535.2,770.4 1535.9,770.9 1536.6,770.7 1537.4,767.7 1538.1,775.2 1538.8,771.6 1539.5,767.1 1540.2,773.0 1541.0,774.0 1541.7,768.6 1542.4,772.4 1543.1,776.3 1543.8,773.9 1544.6,773.0 1545.3,772.9 1546.0,774.1 1546.7,767.4 1547.4,772.2 1548.2,774.2 1548.9,773.6 1549.6,777.1 1550.3,765.1 1551.0,779.3 1551.8,771.5 1552.5,772.5 1553.2,774.2 1553.9,777.1 1554.6,773.9 1555.4,778.1 1556.1,782.3 1556.8,775.1 1557.5,774.6 1558.2,774.8 1559.0,775.9 1559.7,767.3 1560.4,779.1 1561.1,775.8 1561.8,776.4 1562.6,774.2 1563.3,774.3 1564.0,779.9 1564.7,771.2 1565.4,776.8 1566.2,774.3 1566.9,772.1 1567.6,778.2 1568.3,774.2 1569.0,778.3 1569.8,775.6 1570.5,771.1 1571.2,776.3 1571.9,773.6 1572.6,776.0 1573.4,775.8 1574.1,777.8 1574.8,777.0 1575.5,776.1 1576.2,775.3 1577.0,773.2 1577.7,771.6 1578.4,777.5 1579.1,773.9 1579.8,775.8 1580.6,778.9 1581.3,779.4 1582.0,779.5 1582.7,777.8 1583.4,778.6 1584.2,778.5 1584.9,778.2 1585.6,770.4 1586.3,779.5 1587.0,780.0 1587.8,777.6 1588.5,778.0 1589.2,771.5 1589.9,775.2 1590.6,786.3 1591.4,775.3 1592.1,781.5 1592.8,785.6 1593.5,780.5 1594.2,779.3 1595.0,777.9 1595.7,774.8 1596.4,782.4 1597.1,778.3 1597.8,781.0 1598.6,774.1 1599.3,773.1 1600.0,773.0 1600.7,780.1 1601.4,777.3 1602.2,777.3 1602.9,778.7 1603.6,778.3 1604.3,778.4 1605.0,776.2 1605.8,775.4 1606.5,778.4 1607.2,780.6 1607.9,776.5 1608.6,778.3 1609.4,777.1 1610.1,779.2 1610.8,774.9 1611.5,782.9 1612.2,782.6 1613.0,778.3 1613.7,777.7 1614.4,773.6 1615.1,780.4 1615.8,779.1 1616.6,778.6 1617.3,773.9 1618.0,779.9 1618.7,782.9 1619.4,775.3 1620.2,777.5 1620.9,781.3 1621.6,779.9 1622.3,780.0 1623.0,786.2 1623.8,781.8 1624.5,778.7 1625.2,770.9 1625.9,777.7 1626.6,774.6 1627.4,774.8 1628.1,781.4 1628.8,775.3 1629.5,777.7 1630.2,781.8 1631.0,776.2 1631.7,776.7 1632.4,775.0 1633.1,776.8 1633.8,773.9 1634.6,778.6 1635.3,776.2 1636.0,779.2 1636.7,781.9 1637.4,777.8 1638.2,778.8 1638.9,777.0 1639.6,779.4 1640.3,780.4 1641.0,779.2 1641.8,781.7 1642.5,778.7 1643.2,778.0 1643.9,779.4 1644.6,774.0 1645.4,776.9 1646.1,769.4 1646.8,778.8 1647.5,780.6 1648.2,770.3 1649.0,776.3 1649.7,776.6 1650.4,781.2 1651.1,779.2 1651.8,781.6 1652.6,779.9 1653.3,780.0 1654.0,773.4 1654.7,773.0 1655.4,786.6 1656.2,784.4 1656.9,775.3 1657.6,772.0 1658.3,781.6 1659.0,784.0 1659.8,772.1 1660.5,777.0 1661.2,785.2 1661.9,779.7 1662.6,779.7 1663.4,781.0 1664.1,775.9 1664.8,776.6 1665.5,782.9 1666.2,774.7 1667.0,781.2 1667.7,776.2 1668.4,782.7 1669.1,778.9 1669.8,778.7 1670.6,782.2 1671.3,779.3 1672.0,779.4 1672.7,773.2 1673.4,781.0 1674.2,779.2 1674.9,782.5 1675.6,778.7 1676.3,776.9 1677.0,783.5 1677.8,780.4 1678.5,779.0 1679.2,772.1 1679.9,788.6 1680.6,782.9 1681.4,777.9 1682.1,782.5 1682.8,782.0 1683.5,783.9 1684.2,780.8 1685.0,786.5 1685.7,775.7 1686.4,776.7 1687.1,782.8 1687.8,783.5 1688.6,782.3 1689.3,787.6 1690.0,782.4 1690.7,772.2 1691.4,785.7 1692.2,781.9 1692.9,780.7 1693.6,783.4 1694.3,783.4 1695.0,780.8 1695.8,784.1 1696.5,786.0 1697.2,781.6 1697.9,781.7 1698.6,776.6 1699.4,779.7 1700.1,778.2 1700.8,780.8 1701.5,785.6 1702.2,781.7 1703.0,780.6 1703.7,778.0 1704.4,780.1 1705.1,778.7 1705.8,778.4 1706.6,781.0 1707.3,772.0 1708.0,778.8 1708.7,783.2 1709.4,780.8 1710.2,778.0 1710.9,778.9 1711.6,778.3" fill="none" stroke="#669acb" stroke-width="7.0" stroke-linejoin="round" stroke-linecap="round"/>
<path d="M142.0,798.1 142.7,792.9 143.4,799.0 144.2,796.0 144.9,787.4 145.6,808.5 146.3,795.1 147.0,798.8 147.8,805.2 148.5,796.8 149.2,789.5 149.9,791.5 150.6,808.1 151.4,787.2 152.1,796.3 152.8,796.8 153.5,780.0 154.2,795.5 155.0,797.5 155.7,790.3 156.4,791.7 157.1,797.1 157.8,777.5 158.6,782.7 159.3,798.9 160.0,794.8 160.7,786.1 161.4,793.6 162.2,803.7 162.9,785.2 163.6,797.5 164.3,797.1 165.0,792.0 165.8,796.0 166.5,789.1 167.2,800.7 167.9,801.5 168.6,787.6 169.4,791.0 170.1,793.7 170.8,788.6 171.5,793.6 172.2,786.1 173.0,794.4 173.7,789.7 174.4,790.9 175.1,793.4 175.8,795.7 176.6,778.2 177.3,794.6 178.0,794.9 178.7,789.5 179.4,798.0 180.2,785.7 180.9,786.7 181.6,791.4 182.3,785.6 183.0,796.3 183.8,789.8 184.5,797.6 185.2,775.1 185.9,783.2 186.6,795.0 187.4,782.3 188.1,793.2 188.8,783.1 189.5,788.6 190.2,793.1 191.0,786.4 191.7,780.5 192.4,783.7 193.1,792.1 193.8,786.9 194.6,789.4 195.3,785.9 196.0,786.7 196.7,784.0 197.4,779.4 198.2,791.5 198.9,785.3 199.6,773.7 200.3,784.0 201.0,788.8 201.8,800.3 202.5,776.1 203.2,783.6 203.9,789.9 204.6,786.6 205.4,778.8 206.1,788.6 206.8,779.8 207.5,781.2 208.2,778.8 209.0,782.9 209.7,779.0 210.4,782.4 211.1,780.1 211.8,785.0 212.6,788.7 213.3,779.4 214.0,775.8 214.7,778.1 215.4,776.3 216.2,770.3 216.9,778.5 217.6,775.6 218.3,782.3 219.0,776.8 219.8,781.8 220.5,780.6 221.2,774.0 221.9,774.4 222.6,773.1 223.4,773.0 224.1,778.9 224.8,771.8 225.5,771.9 226.2,764.0 227.0,779.8 227.7,770.7 228.4,771.2 229.1,767.3 229.8,772.1 230.6,766.6 231.3,766.6 232.0,759.3 232.7,760.7 233.4,768.9 234.2,771.1 234.9,758.7 235.6,766.9 236.3,766.4 237.0,780.2 237.8,759.4 238.5,760.3 239.2,757.8 239.9,765.7 240.6,765.9 241.4,759.2 242.1,766.3 242.8,772.9 243.5,755.8 244.2,762.6 245.0,755.1 245.7,752.1 246.4,751.8 247.1,751.8 247.8,746.0 248.6,750.2 249.3,753.0 250.0,744.0 250.7,744.7 251.4,741.8 252.2,746.1 252.9,742.7 253.6,750.8 254.3,739.2 255.0,733.1 255.8,739.6 256.5,734.5 257.2,738.7 257.9,739.6 258.6,718.9 259.4,719.8 260.1,727.0 260.8,721.6 261.5,712.9 262.2,718.9 263.0,725.3 263.7,720.4 264.4,711.8 265.1,715.0 265.8,716.2 266.6,709.0 267.3,721.8 268.0,702.7 268.7,712.9 269.4,708.3 270.2,701.8 270.9,698.3 271.6,695.3 272.3,688.8 273.0,695.2 273.8,694.3 274.5,689.9 275.2,685.4 275.9,682.4 276.6,675.7 277.4,674.6 278.1,661.6 278.8,674.7 279.5,666.6 280.2,671.3 281.0,662.7 281.7,668.6 282.4,666.6 283.1,670.5 283.8,659.7 284.6,651.3 285.3,648.5 286.0,644.0 286.7,645.5 287.4,648.0 288.2,634.2 288.9,644.8 289.6,627.7 290.3,625.6 291.0,627.7 291.8,626.8 292.5,619.0 293.2,613.6 293.9,617.9 294.6,602.8 295.4,610.8 296.1,601.8 296.8,596.5 297.5,592.6 298.2,585.0 299.0,578.5 299.7,575.4 300.4,563.4 301.1,559.1 301.8,558.3 302.6,552.9 303.3,546.4 304.0,541.2 304.7,534.0 305.4,530.6 306.2,523.7 306.9,513.3 307.6,518.0 308.3,514.3 309.0,513.3 309.8,501.8 310.5,506.2 311.2,497.2 311.9,492.3 312.6,490.4 313.4,490.2 314.1,485.2 314.8,484.5 315.0,483.1 315.5,484.7 316.2,486.5 317.0,486.1 317.7,490.4 318.4,490.3 319.1,496.4 319.8,496.1 320.6,505.0 321.3,506.3 322.0,507.8 322.7,515.3 323.4,514.1 324.2,524.7 324.9,527.4 325.6,539.0 326.3,539.1 327.0,550.7 327.8,553.2 328.5,559.3 329.2,559.2 329.9,558.6 330.6,572.8 331.4,594.9 332.1,584.1 332.8,599.6 333.5,613.4 334.2,603.9 335.0,611.6 335.7,624.3 336.4,623.7 337.1,629.2 337.8,634.6 338.6,643.5 339.3,648.9 340.0,660.7 340.7,662.5 341.4,672.0 342.2,673.5 342.9,688.3 343.6,686.1 344.3,692.5 345.0,697.3 345.8,701.4 346.5,710.2 347.2,720.7 347.9,721.5 348.6,736.4 349.4,740.3 350.1,747.0 350.8,754.3 351.5,757.8 352.2,758.8 353.0,764.8 353.7,768.3 354.4,768.6 355.1,766.4 355.8,780.4 356.6,771.3 357.3,774.5 358.0,778.6 358.7,775.3 359.4,785.8 360.2,776.2 360.9,786.9 361.6,787.6 362.3,793.0 363.0,790.7 363.8,798.8 364.5,789.3 365.2,794.1 365.9,794.7 366.6,802.1 367.4,798.9 368.1,808.4 368.8,804.8 369.5,803.3 370.2,804.0 371.0,813.7 371.7,810.4 372.4,814.9 373.1,809.4 373.8,816.8 374.6,819.0 375.3,819.1 376.0,821.1 376.7,815.5 377.4,813.8 378.2,815.8 378.9,824.8 379.6,823.8 380.3,826.2 381.0,818.7 381.8,827.7 382.5,818.6 383.2,827.4 383.9,822.0 384.6,825.3 385.4,830.4 386.1,832.1 386.8,828.5 387.5,828.3 388.2,836.2 389.0,835.5 389.7,825.7 390.4,833.8 391.1,831.8 391.8,837.8 392.6,836.4 393.3,837.0 394.0,836.2 394.7,834.3 395.4,848.1 396.2,839.3 396.9,829.2 397.6,837.3 398.3,840.4 399.0,836.9 399.8,836.6 400.5,838.2 401.2,842.6 401.9,833.0 402.6,843.6 403.4,848.1 404.1,846.9 404.8,847.5 405.5,843.1 406.2,849.1 407.0,844.9 407.7,848.8 408.4,841.1 409.1,851.0 409.8,844.1 410.6,846.9 411.3,851.3 412.0,847.5 412.7,846.0 413.4,847.5 414.2,852.7 414.9,853.1 415.6,851.6 416.3,846.9 417.0,848.0 417.8,852.3 418.5,852.9 419.2,847.4 419.9,847.6 420.6,853.3 421.4,855.1 422.1,852.1 422.8,846.2 423.5,857.6 424.2,851.5 425.0,853.3 425.7,842.9 426.4,848.8 427.1,850.4 427.8,853.2 428.6,848.5 429.3,846.0 430.0,845.7 430.7,850.8 431.4,853.6 432.2,853.5 432.9,845.8 433.6,849.9 434.3,852.3 435.0,856.7 435.8,858.1 436.5,853.9 437.2,846.4 437.9,857.2 438.6,852.1 439.4,853.8 440.1,850.4 440.8,852.2 441.5,851.6 442.2,849.1 443.0,849.4 443.7,855.4 444.4,856.3 445.1,847.6 445.8,849.4 446.6,849.4 447.3,851.3 448.0,857.9 448.7,851.7 449.4,859.3 450.2,847.1 450.9,847.7 451.6,848.7 452.3,848.3 453.0,852.8 453.8,858.2 454.5,848.3 455.2,852.4 455.9,856.1 456.6,860.2 457.4,851.4 458.1,859.8 458.8,855.5 459.5,850.5 460.2,852.2 461.0,848.4 461.7,846.2 462.4,847.2 463.1,853.4 463.8,853.8 464.6,849.7 465.3,844.4 466.0,852.2 466.7,847.8 467.4,850.0 468.2,846.9 468.9,845.0 469.6,844.9 470.3,843.6 471.0,840.7 471.8,829.6 472.5,822.0 473.2,817.5 473.9,808.2 474.6,806.6 475.4,800.3 476.1,795.8 476.8,793.5 477.0,793.0 477.5,794.8 478.2,799.4 479.0,807.6 479.7,816.9 480.4,825.0 481.1,831.5 481.8,835.2 482.6,840.7 483.3,844.7 484.0,849.0 484.7,851.8 485.4,851.8 486.2,856.1 486.9,858.3 487.6,858.6 488.3,856.4 489.0,854.9 489.8,856.5 490.5,856.6 491.2,859.8 491.9,857.7 492.6,860.5 493.4,863.5 494.1,856.4 494.8,853.4 495.5,854.1 496.2,854.7 497.0,858.8 497.7,863.5 498.4,851.0 499.1,861.8 499.8,858.8 500.6,864.3 501.3,871.8 502.0,863.8 502.7,861.1 503.4,861.8 504.2,864.9 504.9,858.9 505.6,857.2 506.3,860.8 507.0,866.3 507.8,857.6 508.5,870.7 509.2,863.6 509.9,859.4 510.6,857.3 511.4,854.1 512.1,855.8 512.8,862.0 513.5,862.9 514.2,854.7 515.0,857.8 515.7,857.0 516.4,869.0 517.1,854.5 517.8,854.0 518.6,863.5 519.3,849.5 520.0,863.0 520.7,855.9 521.4,862.8 522.2,864.1 522.9,856.9 523.6,858.4 524.3,849.3 525.0,861.6 525.8,856.8 526.5,854.2 527.2,859.4 527.9,858.9 528.6,857.2 529.4,853.2 530.1,866.0 530.8,854.3 531.5,853.4 532.2,855.6 533.0,858.3 533.7,852.7 534.4,850.4 535.1,852.0 535.8,852.7 536.6,853.0 537.3,862.1 538.0,843.6 538.7,852.9 539.4,854.3 540.2,850.8 540.9,849.4 541.6,854.5 542.3,855.6 543.0,853.8 543.8,851.2 544.5,850.0 545.2,850.3 545.9,845.5 546.6,840.6 547.4,839.2 548.1,832.3 548.8,826.7 549.5,820.9 550.2,814.8 551.0,808.5 551.7,804.1 552.4,800.4 553.0,799.3 553.1,797.8 553.8,802.5 554.6,809.0 555.3,816.9 556.0,819.0 556.7,820.6 557.4,824.3 558.2,825.8 558.9,832.3 559.6,827.4 560.3,828.4 561.0,832.9 561.8,833.2 562.5,833.9 563.2,830.4 563.9,836.9 564.6,833.1 565.4,829.6 566.1,833.0 566.8,827.7 567.5,822.8 568.2,829.1 569.0,827.2 569.7,828.6 570.4,827.6 571.1,827.4 571.8,825.7 572.6,830.0 573.3,824.4 574.0,824.5 574.7,823.1 575.4,822.3 576.2,818.8 576.9,820.5 577.6,812.1 578.3,810.9 579.0,803.8 579.8,796.7 580.5,796.3 581.2,792.5 581.9,788.1 582.6,786.1 583.4,783.9 584.1,780.4 584.8,779.7 585.0,779.7 585.5,778.1 586.2,785.2 587.0,788.6 587.7,801.0 588.4,804.7 589.1,811.1 589.8,816.5 590.6,817.5 591.3,816.9 592.0,818.4 592.7,820.1 593.4,822.5 594.2,822.1 594.9,820.3 595.6,815.3 596.3,809.5 597.0,800.0 597.8,789.2 598.5,784.1 599.2,779.5 599.9,767.7 600.6,754.4 601.4,750.4 602.1,742.1 602.8,733.1 603.5,725.6 604.2,720.8 605.0,718.4 605.0,719.0 605.7,722.4 606.4,729.6 607.1,742.2 607.8,753.5 608.6,767.2 609.3,780.2 610.0,789.8 610.7,795.8 611.4,805.1 612.2,810.6 612.9,815.1 613.6,822.5 614.3,825.8 615.0,826.7 615.8,829.1 616.5,832.9 617.2,832.4 617.9,832.5 618.6,830.0 619.4,835.0 620.1,838.2 620.8,842.1 621.5,837.9 622.2,839.6 623.0,841.1 623.7,837.7 624.4,833.1 625.1,838.4 625.8,840.7 626.6,843.1 627.3,843.1 628.0,841.2 628.7,842.6 629.4,842.2 630.2,843.1 630.9,844.1 631.6,841.7 632.3,847.6 633.0,850.1 633.8,848.2 634.5,850.5 635.2,852.7 635.9,849.3 636.6,851.8 637.4,851.7 638.1,857.6 638.8,852.7 639.5,857.9 640.2,849.3 641.0,865.6 641.7,863.0 642.4,859.0 643.1,862.7 643.8,870.7 644.6,865.4 645.3,860.9 646.0,867.3 646.7,867.0 647.4,871.4 648.2,871.4 648.9,867.1 649.6,873.6 650.3,876.5 651.0,878.4 651.8,876.1 652.5,880.6 653.2,880.0 653.9,878.5 654.6,885.1 655.4,870.3 656.1,884.2 656.8,880.3 657.5,875.9 658.2,878.0 659.0,870.5 659.7,874.1 660.4,873.5 661.1,870.1 661.8,871.8 662.6,866.0 663.3,870.3 664.0,875.6 664.7,875.4 665.4,868.0 666.2,872.5 666.9,867.4 667.6,857.1 668.3,862.8 669.0,863.0 669.8,861.5 670.5,861.9 671.2,855.8 671.9,855.4 672.6,856.4 673.4,853.5 674.1,852.9 674.8,851.8 675.0,853.6 675.5,853.1 676.2,853.2 677.0,857.9 677.7,859.1 678.4,864.6 679.1,867.0 679.8,873.0 680.6,875.7 681.3,878.9 682.0,880.2 682.7,881.1 683.4,882.8 684.2,883.4 684.9,882.4 685.6,881.2 686.3,887.6 687.0,890.4 687.8,884.9 688.5,889.5 689.2,886.8 689.9,889.5 690.6,896.0 691.4,890.8 692.1,889.1 692.8,883.4 693.5,889.7 694.2,890.6 695.0,895.3 695.7,888.8 696.4,891.1 697.1,892.4 697.8,896.3 698.6,888.0 699.3,895.2 700.0,892.2 700.7,887.1 701.4,888.2 702.2,885.0 702.9,896.1 703.6,891.6 704.3,885.5 705.0,892.2 705.8,898.2 706.5,897.1 707.2,896.6 707.9,897.2 708.6,896.5 709.4,892.6 710.1,890.4 710.8,897.9 711.5,893.5 712.2,894.1 713.0,890.0 713.7,895.0 714.4,897.6 715.1,891.6 715.8,893.2 716.6,892.6 717.3,894.4 718.0,891.8 718.7,891.7 719.4,889.2 720.2,891.1 720.9,888.2 721.6,892.8 722.3,889.5 723.0,895.1 723.8,886.9 724.5,885.4 725.2,891.4 725.9,890.0 726.6,882.9 727.4,895.6 728.1,885.9 728.8,889.7 729.5,884.1 730.2,887.1 731.0,888.0 731.7,882.1 732.4,886.0 733.1,885.4 733.8,888.8 734.6,884.6 735.3,885.4 736.0,882.0 736.7,881.7 737.4,880.6 738.2,877.3 738.9,871.1 739.6,870.9 740.3,876.9 741.0,876.6 741.8,874.5 742.5,871.6 743.2,871.0 743.9,867.7 744.6,874.5 745.4,864.7 746.1,874.0 746.8,866.6 747.5,874.8 748.2,867.4 749.0,863.8 749.7,864.0 750.4,861.0 751.1,865.8 751.8,859.9 752.6,859.4 753.3,855.0 754.0,857.4 754.7,850.9 755.4,851.4 756.2,854.0 756.9,842.1 757.6,847.8 758.3,847.7 759.0,842.7 759.8,844.1 760.5,841.3 761.2,836.5 761.9,827.2 762.6,828.3 763.4,824.9 764.1,827.2 764.8,822.3 765.5,819.6 766.2,815.3 767.0,816.0 767.7,815.4 768.4,805.8 769.1,811.3 769.8,811.2 770.6,807.6 771.3,806.4 772.0,803.7 772.7,805.1 773.4,800.2 774.2,800.9 774.9,797.1 775.6,791.7 776.3,790.6 777.0,788.0 777.8,783.5 778.5,775.4 779.2,768.8 779.9,766.3 780.6,763.6 781.4,751.3 782.1,749.8 782.8,751.0 783.5,743.6 784.2,736.5 785.0,735.4 785.7,730.2 786.4,720.3 787.1,715.9 787.8,708.1 788.6,702.4 789.3,697.3 790.0,687.7 790.7,680.8 791.4,672.9 792.2,663.3 792.9,659.9 793.6,653.6 794.3,646.8 795.0,641.7 795.8,638.3 796.5,630.7 797.2,627.9 797.9,627.0 798.6,623.3 799.4,624.3 800.1,612.4 800.8,613.8 801.5,608.2 802.2,612.0 803.0,604.1 803.7,602.6 804.4,594.0 805.1,591.0 805.8,590.1 806.6,582.0 807.3,576.9 808.0,573.8 808.7,569.8 809.4,567.6 810.0,567.1 810.2,566.5 810.9,568.7 811.6,568.9 812.3,568.0 813.0,568.4 813.8,565.9 814.5,568.5 815.2,575.0 815.9,570.8 816.6,573.8 817.4,579.3 818.1,579.8 818.8,580.6 819.5,582.9 820.2,584.6 821.0,587.9 821.7,591.6 822.4,598.2 823.1,604.5 823.8,609.8 824.6,623.0 825.3,627.9 826.0,635.0 826.7,641.3 827.4,645.9 828.2,649.9 828.9,655.8 829.6,659.9 830.3,661.3 831.0,665.0 831.8,669.8 832.5,674.1 833.2,676.1 833.9,677.0 834.6,685.7 835.4,686.6 836.1,690.3 836.8,695.5 837.5,702.0 838.2,707.2 839.0,708.7 839.7,715.7 840.4,723.7 841.1,731.9 841.8,738.9 842.6,741.2 843.3,752.3 844.0,753.2 844.7,757.1 845.4,760.5 846.2,762.1 846.9,771.3 847.6,777.7 848.3,793.0 849.0,803.4 849.8,807.7 850.5,812.0 851.2,814.8 851.9,818.9 852.6,821.6 853.4,823.4 854.1,821.3 854.8,825.3 855.5,831.6 856.2,839.4 857.0,830.9 857.7,834.7 858.4,833.9 859.1,831.1 859.8,842.7 860.6,843.3 861.3,846.9 862.0,845.2 862.7,846.7 863.4,855.1 864.2,850.4 864.9,856.6 865.6,859.1 866.3,858.4 867.0,858.6 867.8,862.3 868.5,858.7 869.2,863.9 869.9,865.0 870.6,863.4 871.4,867.6 872.1,872.2 872.8,877.5 873.5,868.8 874.2,874.4 875.0,875.4 875.7,874.4 876.4,874.6 877.1,878.8 877.8,880.5 878.6,875.0 879.3,884.7 880.0,880.7 880.7,882.4 881.4,881.2 882.2,892.9 882.9,880.6 883.6,884.0 884.3,887.4 885.0,884.2 885.8,887.0 886.5,890.1 887.2,892.9 887.9,889.5 888.6,889.3 889.4,895.0 890.1,892.5 890.8,889.7 891.5,896.2 892.2,893.3 893.0,892.1 893.7,898.4 894.4,897.9 895.1,894.3 895.8,899.4 896.6,895.8 897.3,896.8 898.0,896.0 898.7,902.3 899.4,899.8 900.2,902.5 900.9,891.7 901.6,900.5 902.3,897.1 903.0,900.7 903.8,902.0 904.5,903.1 905.2,899.4 905.9,907.8 906.6,899.9 907.4,909.2 908.1,905.5 908.8,909.6 909.5,903.6 910.2,907.6 911.0,909.6 911.7,915.0 912.4,910.1 913.1,914.5 913.8,910.8 914.6,919.5 915.3,910.7 916.0,911.4 916.7,914.0 917.4,908.8 918.2,908.5 918.9,913.3 919.6,916.1 920.3,914.7 921.0,911.9 921.8,912.0 922.5,910.2 923.2,909.4 923.9,910.9 924.6,902.6 925.4,901.8 926.1,899.9 926.8,900.8 927.5,901.5 928.2,899.5 929.0,898.2 929.0,898.7 929.7,900.1 930.4,905.1 931.1,909.9 931.8,915.7 932.6,920.4 933.3,921.7 934.0,926.6 934.7,923.9 935.4,925.3 936.2,927.8 936.9,933.4 937.6,929.1 938.3,932.4 939.0,933.8 939.8,931.4 940.5,930.8 941.2,938.7 941.9,933.6 942.6,933.1 943.4,935.4 944.1,934.7 944.8,930.2 945.5,929.4 946.2,934.1 947.0,932.4 947.7,934.9 948.4,931.4 949.1,942.7 949.8,936.5 950.6,941.2 951.3,933.8 952.0,935.0 952.7,934.2 953.4,935.4 954.2,936.0 954.9,934.5 955.6,933.5 956.3,932.8 957.0,931.4 957.8,930.4 958.5,924.2 959.2,922.6 959.9,922.1 960.6,917.6 961.4,913.0 962.0,912.2 962.1,911.9 962.8,913.6 963.5,917.6 964.2,921.2 965.0,926.1 965.7,929.1 966.4,932.1 967.1,931.0 967.8,934.0 968.6,932.0 969.3,933.2 970.0,931.0 970.7,934.3 971.4,938.1 972.2,939.1 972.9,932.1 973.6,942.4 974.3,936.8 975.0,937.6 975.8,939.3 976.5,937.0 977.2,934.7 977.9,937.5 978.6,935.1 979.4,943.4 980.1,938.3 980.8,931.8 981.5,942.3 982.2,940.3 983.0,938.6 983.7,933.4 984.4,948.7 985.1,938.2 985.8,938.3 986.6,937.7 987.3,940.0 988.0,939.4 988.7,942.0 989.4,941.3 990.2,940.0 990.9,943.4 991.6,937.1 992.3,943.1 993.0,943.0 993.8,940.6 994.5,942.7 995.2,941.4 995.9,941.4 996.6,939.5 997.4,934.9 998.1,936.5 998.8,937.3 999.5,939.1 1000.2,943.4 1001.0,940.3 1001.7,941.4 1002.4,937.9 1003.1,936.5 1003.8,941.3 1004.6,948.1 1005.3,937.8 1006.0,945.1 1006.7,937.6 1007.4,937.5 1008.2,934.2 1008.9,938.5 1009.6,943.6 1010.3,941.7 1011.0,941.4 1011.8,939.5 1012.5,943.9 1013.2,946.6 1013.9,942.1 1014.6,940.1 1015.4,938.1 1016.1,938.7 1016.8,937.6 1017.5,945.4 1018.2,939.1 1019.0,944.9 1019.7,937.9 1020.4,944.1 1021.1,943.3 1021.8,943.9 1022.6,942.6 1023.3,938.6 1024.0,949.8 1024.7,937.5 1025.4,945.1 1026.2,941.2 1026.9,938.5 1027.6,944.1 1028.3,946.1 1029.0,944.8 1029.8,937.8 1030.5,939.6 1031.2,943.5 1031.9,943.0 1032.6,944.6 1033.4,941.1 1034.1,936.5 1034.8,938.0 1035.5,942.5 1036.2,938.5 1037.0,937.5 1037.7,943.4 1038.4,945.7 1039.1,939.7 1039.8,941.0 1040.6,941.3 1041.3,944.4 1042.0,940.9 1042.7,940.8 1043.4,941.5 1044.2,938.0 1044.9,945.6 1045.6,946.3 1046.3,941.8 1047.0,942.1 1047.8,942.4 1048.5,941.8 1049.2,936.0 1049.9,943.7 1050.6,946.6 1051.4,944.8 1052.1,938.8 1052.8,942.3 1053.5,937.8 1054.2,947.2 1055.0,937.1 1055.7,941.2 1056.4,946.3 1057.1,936.5 1057.8,942.0 1058.6,936.6 1059.3,944.3 1060.0,940.5 1060.7,939.8 1061.4,938.7 1062.2,943.1 1062.9,941.9 1063.6,943.6 1064.3,947.0 1065.0,939.8 1065.8,942.3 1066.5,945.4 1067.2,943.1 1067.9,942.8 1068.6,942.3 1069.4,940.3 1070.1,941.7 1070.8,941.4 1071.5,949.0 1072.2,940.8 1073.0,938.6 1073.7,942.7 1074.4,940.8 1075.1,939.6 1075.8,943.9 1076.6,940.9 1077.3,939.0 1078.0,943.2 1078.7,947.3 1079.4,945.3 1080.2,942.2 1080.9,942.3 1081.6,941.2 1082.3,943.5 1083.0,940.7 1083.8,942.4 1084.5,940.2 1085.2,941.9 1085.9,935.2 1086.6,941.2 1087.4,939.5 1088.1,940.2 1088.8,943.8 1089.5,937.3 1090.2,938.5 1091.0,942.3 1091.7,941.2 1092.4,943.8 1093.1,942.0 1093.8,936.2 1094.6,942.2 1095.3,940.5 1096.0,941.4 1096.7,944.0 1097.4,941.3 1098.2,940.4 1098.9,936.2 1099.6,939.7 1100.0,943.4 1100.3,942.5 1101.0,937.4 1101.8,936.9 1102.5,939.8 1103.2,944.1 1103.9,938.8 1104.6,945.0 1105.4,947.4 1106.1,937.8 1106.8,947.2 1107.5,946.9 1108.2,935.2 1109.0,936.4 1109.7,940.8 1110.4,941.3 1111.1,938.8 1111.8,941.4 1112.6,943.8 1113.3,938.9 1114.0,934.9 1114.7,940.7 1115.4,944.1 1116.2,946.2 1116.9,945.1 1117.6,933.7 1118.3,938.5 1119.0,941.8 1119.8,939.6 1120.5,943.9 1121.2,943.7 1121.9,945.1 1122.6,946.9 1123.4,941.1 1124.1,948.1 1124.8,938.7 1125.5,935.3 1126.2,935.1 1127.0,940.5 1127.7,945.3 1128.4,948.5 1129.1,933.7 1129.8,945.8 1130.6,947.3 1131.3,944.6 1132.0,937.8 1132.7,945.3 1133.4,946.8 1134.2,938.8 1134.9,940.8 1135.6,947.5 1136.3,947.1 1137.0,947.9 1137.8,948.4 1138.5,940.9 1139.2,936.4 1139.9,947.5 1140.6,942.8 1141.4,947.5 1142.1,946.6 1142.8,942.5 1143.5,947.8 1144.2,946.3 1145.0,943.1 1145.7,943.4 1146.4,943.3 1147.1,945.8 1147.8,947.8 1148.6,946.5 1149.3,944.4 1150.0,935.4 1150.7,945.1 1151.4,944.5 1152.2,942.8 1152.9,942.1 1153.6,949.4 1154.3,949.2 1155.0,935.3 1155.8,947.5 1156.5,946.9 1157.2,949.8 1157.9,942.0 1158.6,950.8 1159.4,942.6 1160.1,943.5 1160.8,944.7 1161.5,946.8 1162.2,944.3 1163.0,939.3 1163.7,946.2 1164.4,943.6 1165.1,942.8 1165.8,938.3 1166.6,942.0 1167.3,946.6 1168.0,946.7 1168.7,944.3 1169.4,935.8 1170.2,947.3 1170.9,935.7 1171.6,944.6 1172.3,937.6 1173.0,937.4 1173.8,942.9 1174.5,942.2 1175.2,941.8 1175.9,938.4 1176.6,933.2 1177.4,943.3 1178.1,940.3 1178.8,942.9 1179.5,942.3 1180.2,938.3 1181.0,938.0 1181.7,933.0 1182.4,933.7 1183.1,929.8 1183.8,928.7 1184.6,924.9 1185.3,921.2 1186.0,917.7 1186.7,915.7 1187.0,916.6 1187.4,916.8 1188.2,920.8 1188.9,924.4 1189.6,927.2 1190.3,931.6 1191.0,936.8 1191.8,932.6 1192.5,937.7 1193.2,938.5 1193.9,935.6 1194.6,943.7 1195.4,942.2 1196.1,942.7 1196.8,942.1 1197.5,945.1 1198.2,945.8 1199.0,949.6 1199.7,947.0 1200.4,954.8 1201.1,947.8 1201.8,950.4 1202.6,949.0 1203.3,953.4 1204.0,950.7 1204.7,955.8 1205.4,955.2 1206.2,954.0 1206.9,949.1 1207.6,953.4 1208.3,953.4 1209.0,955.3 1209.8,949.9 1210.5,955.5 1211.2,955.6 1211.9,953.4 1212.6,954.5 1213.4,952.1 1214.1,956.4 1214.8,950.0 1215.5,951.5 1216.2,961.2 1217.0,953.3 1217.7,953.3 1218.4,950.6 1219.1,952.6 1219.8,954.1 1220.6,949.7 1221.3,943.8 1222.0,951.9 1222.7,958.0 1223.4,952.2 1224.2,960.9 1224.9,961.6 1225.6,954.9 1226.3,951.5 1227.0,954.4 1227.8,961.7 1228.5,948.7 1229.2,953.8 1229.9,957.7 1230.6,955.5 1231.4,953.2 1232.1,951.0 1232.8,958.9 1233.5,946.8 1234.2,961.9 1235.0,949.3 1235.7,945.7 1236.4,950.7 1237.1,951.1 1237.8,950.3 1238.6,946.3 1239.3,948.9 1240.0,953.4 1240.7,952.1 1241.4,954.4 1242.2,951.3 1242.9,947.4 1243.6,949.7 1244.3,950.8 1245.0,951.1 1245.8,951.3 1246.5,951.1 1247.2,952.3 1247.9,952.3 1248.6,947.6 1249.4,953.4 1250.1,951.9 1250.8,947.0 1251.5,950.3 1252.2,948.9 1253.0,950.1 1253.7,943.7 1254.4,943.5 1255.1,955.0 1255.8,948.0 1256.6,953.2 1257.3,953.5 1258.0,949.9 1258.7,958.7 1259.4,946.0 1260.2,949.4 1260.9,944.8 1261.6,949.2 1262.3,952.0 1263.0,949.9 1263.8,949.4 1264.5,945.3 1265.2,949.0 1265.9,945.8 1266.6,948.9 1267.4,945.7 1268.1,950.6 1268.8,949.5 1269.5,948.8 1270.2,950.0 1271.0,951.2 1271.7,947.3 1272.4,945.0 1273.1,945.2 1273.8,951.9 1274.6,947.9 1275.3,938.8 1276.0,943.3 1276.7,955.2 1277.4,945.4 1278.2,951.2 1278.9,950.4 1279.6,943.9 1280.3,944.6 1281.0,942.5 1281.8,947.4 1282.5,940.8 1283.2,946.0 1283.9,943.4 1284.6,954.1 1285.4,943.0 1286.1,941.6 1286.8,945.4 1287.5,940.4 1288.2,945.2 1289.0,942.1 1289.7,941.0 1290.4,939.8 1291.1,941.5 1291.8,938.5 1292.6,943.3 1293.3,941.1 1294.0,939.3 1294.7,944.2 1295.4,940.8 1296.2,944.3 1296.9,934.3 1297.6,942.7 1298.3,938.8 1299.0,942.7 1299.8,937.6 1300.5,935.5 1301.2,934.5 1301.9,936.8 1302.6,930.5 1303.4,933.3 1304.1,930.8 1304.8,939.8 1305.5,933.8 1306.2,930.8 1307.0,921.8 1307.7,929.8 1308.4,924.7 1309.1,928.4 1309.8,927.9 1310.6,925.0 1311.3,922.7 1312.0,924.5 1312.7,924.1 1313.4,923.3 1314.2,922.4 1314.9,922.6 1315.6,918.3 1316.3,921.7 1317.0,917.2 1317.8,917.6 1318.5,914.7 1319.2,915.4 1319.9,917.7 1320.6,913.5 1321.4,911.3 1322.1,909.8 1322.8,906.5 1323.5,903.3 1324.2,899.5 1325.0,904.0 1325.7,905.0 1326.4,902.5 1327.1,893.8 1327.8,895.2 1328.6,897.0 1329.3,893.1 1330.0,894.4 1330.7,893.2 1331.4,886.1 1332.2,889.4 1332.9,885.2 1333.6,882.2 1334.3,882.1 1335.0,877.6 1335.8,872.9 1336.5,876.9 1337.2,873.8 1337.9,871.4 1338.6,868.1 1339.4,861.6 1340.1,862.7 1340.8,864.5 1341.5,858.7 1342.2,855.1 1343.0,853.0 1343.7,848.1 1344.4,847.1 1345.1,844.3 1345.8,840.0 1346.6,838.0 1347.3,835.1 1348.0,831.9 1348.7,834.5 1349.4,823.9 1350.2,817.7 1350.9,817.6 1351.6,810.3 1352.3,815.2 1353.0,806.6 1353.8,804.4 1354.5,802.1 1355.2,800.9 1355.9,792.7 1356.6,794.3 1357.4,790.3 1358.1,788.2 1358.8,788.7 1359.5,781.8 1360.2,784.6 1361.0,778.5 1361.7,778.9 1362.4,773.2 1363.1,772.3 1363.8,768.8 1364.6,769.0 1365.3,766.1 1366.0,764.0 1366.7,761.1 1367.0,766.3 1367.4,764.6 1368.2,765.7 1368.9,768.1 1369.6,768.5 1370.3,771.4 1371.0,769.3 1371.8,770.5 1372.5,773.3 1373.2,767.7 1373.9,770.5 1374.6,768.5 1375.4,774.3 1376.1,769.4 1376.8,770.4 1377.5,770.5 1378.2,767.3 1379.0,770.2 1379.7,771.0 1380.4,774.8 1381.1,774.8 1381.8,780.0 1382.6,781.5 1383.3,785.5 1384.0,789.6 1384.7,794.6 1385.4,792.7 1386.2,793.0 1386.9,796.8 1387.6,801.0 1388.3,806.1 1389.0,807.2 1389.8,809.6 1390.5,818.3 1391.2,817.4 1391.9,823.0 1392.6,820.2 1393.4,823.6 1394.1,826.8 1394.8,828.5 1395.5,833.8 1396.2,838.2 1397.0,837.8 1397.7,841.0 1398.4,846.8 1399.1,843.8 1399.8,849.2 1400.6,854.9 1401.3,855.8 1402.0,857.5 1402.7,865.5 1403.4,863.3 1404.2,863.7 1404.9,861.9 1405.6,861.9 1406.3,864.8 1407.0,872.4 1407.8,868.6 1408.5,870.8 1409.2,877.2 1409.9,874.8 1410.6,878.6 1411.4,875.3 1412.1,879.3 1412.8,880.9 1413.5,882.4 1414.2,881.5 1415.0,885.3 1415.7,892.0 1416.4,891.6 1417.1,895.1 1417.8,892.6 1418.6,901.2 1419.3,896.5 1420.0,899.0 1420.7,902.7 1421.4,902.6 1422.2,906.2 1422.9,912.1 1423.6,911.5 1424.3,911.2 1425.0,917.2 1425.8,915.2 1426.5,917.5 1427.2,920.6 1427.9,923.4 1428.6,919.5 1429.4,924.9 1430.1,924.2 1430.8,923.3 1431.5,923.8 1432.2,924.3 1433.0,923.5 1433.7,930.1 1434.4,931.9 1435.1,928.4 1435.8,928.7 1436.6,929.7 1437.3,937.6 1438.0,931.7 1438.7,935.7 1439.4,932.9 1440.2,935.9 1440.9,924.1 1441.6,930.6 1442.3,934.2 1443.0,933.8 1443.8,932.6 1444.5,932.4 1445.2,932.0 1445.9,936.9 1446.6,936.5 1447.4,940.1 1448.1,937.1 1448.8,939.3 1449.5,941.1 1450.2,942.3 1451.0,939.3 1451.7,941.0 1452.4,946.3 1453.1,935.4 1453.8,943.0 1454.6,943.3 1455.3,941.9 1456.0,937.9 1456.7,943.2 1457.4,941.8 1458.2,942.7 1458.9,942.2 1459.6,941.8 1460.3,945.1 1461.0,942.2 1461.8,948.2 1462.5,947.1 1463.2,946.1 1463.9,948.4 1464.6,951.1 1465.4,948.5 1466.1,952.4 1466.8,957.8 1467.5,951.9 1468.2,953.3 1469.0,951.2 1469.7,953.2 1470.4,951.6 1471.1,958.1 1471.8,952.3 1472.6,956.2 1473.3,953.2 1474.0,955.5 1474.7,953.0 1475.4,952.9 1476.2,959.9 1476.9,959.5 1477.6,957.4 1478.3,956.1 1479.0,957.0 1479.8,954.5 1480.5,958.9 1481.2,962.3 1481.9,956.4 1482.6,966.0 1483.4,960.2 1484.1,964.2 1484.8,961.8 1485.5,953.4 1486.2,957.6 1487.0,969.3 1487.7,964.4 1488.4,959.4 1489.1,966.7 1489.8,961.5 1490.6,969.5 1491.3,960.7 1492.0,963.9 1492.7,961.5 1493.4,959.1 1494.2,962.5 1494.9,958.0 1495.6,957.0 1496.3,959.0 1497.0,954.6 1497.8,954.4 1498.5,957.1 1499.2,958.4 1499.9,960.0 1500.6,960.9 1501.4,955.5 1502.1,960.8 1502.8,957.1 1503.5,955.6 1504.2,957.4 1505.0,957.2 1505.7,954.0 1506.4,951.8 1507.1,952.0 1507.8,949.2 1508.6,944.0 1509.3,946.0 1510.0,944.7 1510.7,943.8 1511.4,942.8 1512.2,942.5 1512.9,940.2 1513.0,941.1 1513.6,942.3 1514.3,941.3 1515.0,948.8 1515.8,950.8 1516.5,959.1 1517.2,956.7 1517.9,955.6 1518.6,958.7 1519.4,959.5 1520.1,962.3 1520.8,959.9 1521.5,964.4 1522.2,964.5 1523.0,965.4 1523.7,968.3 1524.4,967.1 1525.1,971.0 1525.8,967.6 1526.6,968.8 1527.3,965.3 1528.0,965.0 1528.7,971.4 1529.4,965.3 1530.2,963.4 1530.9,963.4 1531.6,964.4 1532.3,959.0 1533.0,964.6 1533.8,970.5 1534.5,966.3 1535.2,968.5 1535.9,973.1 1536.6,965.2 1537.4,965.4 1538.1,962.3 1538.8,970.4 1539.5,968.3 1540.2,962.2 1541.0,971.2 1541.7,970.4 1542.4,959.7 1543.1,964.1 1543.8,970.0 1544.6,959.8 1545.3,966.9 1546.0,969.6 1546.7,968.8 1547.4,966.4 1548.2,970.1 1548.9,972.2 1549.6,967.5 1550.3,976.6 1551.0,970.8 1551.8,970.2 1552.5,960.4 1553.2,966.3 1553.9,966.7 1554.6,972.0 1555.4,966.4 1556.1,978.6 1556.8,972.5 1557.5,967.9 1558.2,969.6 1559.0,974.5 1559.7,964.3 1560.4,963.6 1561.1,968.2 1561.8,970.8 1562.6,973.3 1563.3,972.1 1564.0,978.1 1564.7,974.1 1565.4,972.1 1566.2,974.7 1566.9,975.0 1567.6,972.1 1568.3,973.9 1569.0,973.5 1569.8,972.4 1570.5,971.8 1571.2,968.7 1571.9,971.6 1572.6,969.3 1573.4,974.2 1574.1,972.5 1574.8,968.8 1575.5,971.5 1576.2,971.5 1577.0,968.3 1577.7,970.6 1578.4,973.0 1579.1,977.2 1579.8,972.9 1580.6,974.6 1581.3,977.2 1582.0,976.6 1582.7,973.9 1583.4,975.3 1584.2,972.9 1584.9,972.6 1585.6,973.7 1586.3,974.8 1587.0,980.7 1587.8,975.9 1588.5,980.5 1589.2,969.4 1589.9,973.0 1590.6,973.9 1591.4,970.7 1592.1,967.5 1592.8,975.6 1593.5,980.5 1594.2,971.5 1595.0,975.3 1595.7,979.9 1596.4,974.3 1597.1,974.1 1597.8,971.5 1598.6,974.4 1599.3,980.6 1600.0,977.8 1600.7,972.9 1601.4,977.7 1602.2,971.4 1602.9,973.4 1603.6,975.7 1604.3,976.7 1605.0,978.0 1605.8,974.4 1606.5,968.9 1607.2,978.5 1607.9,984.5 1608.6,976.6 1609.4,974.4 1610.1,973.7 1610.8,975.3 1611.5,966.2 1612.2,975.4 1613.0,973.9 1613.7,970.5 1614.4,975.1 1615.1,976.4 1615.8,980.2 1616.6,975.1 1617.3,979.8 1618.0,973.5 1618.7,974.0 1619.4,976.3 1620.2,973.0 1620.9,975.6 1621.6,972.9 1622.3,972.7 1623.0,973.8 1623.8,977.2 1624.5,975.2 1625.2,971.0 1625.9,979.9 1626.6,975.1 1627.4,977.6 1628.1,976.5 1628.8,978.0 1629.5,975.5 1630.2,971.0 1631.0,976.7 1631.7,977.0 1632.4,977.6 1633.1,977.3 1633.8,977.2 1634.6,973.1 1635.3,983.0 1636.0,978.9 1636.7,975.8 1637.4,977.0 1638.2,976.6 1638.9,980.4 1639.6,972.0 1640.3,975.7 1641.0,981.6 1641.8,972.0 1642.5,973.2 1643.2,981.5 1643.9,972.9 1644.6,977.2 1645.4,974.2 1646.1,976.2 1646.8,974.4 1647.5,977.0 1648.2,972.5 1649.0,981.4 1649.7,980.2 1650.4,977.7 1651.1,975.5 1651.8,977.4 1652.6,976.1 1653.3,978.3 1654.0,975.5 1654.7,975.8 1655.4,980.6 1656.2,979.8 1656.9,981.5 1657.6,979.4 1658.3,972.0 1659.0,978.1 1659.8,983.7 1660.5,977.5 1661.2,979.7 1661.9,979.7 1662.6,977.6 1663.4,978.2 1664.1,976.7 1664.8,980.5 1665.5,973.0 1666.2,972.6 1667.0,979.3 1667.7,971.8 1668.4,977.7 1669.1,976.6 1669.8,979.9 1670.6,971.4 1671.3,973.5 1672.0,975.8 1672.7,975.7 1673.4,973.7 1674.2,973.3 1674.9,975.8 1675.6,977.9 1676.3,969.7 1677.0,978.2 1677.8,980.1 1678.5,974.1 1679.2,972.5 1679.9,971.9 1680.6,969.4 1681.4,976.3 1682.1,974.8 1682.8,974.5 1683.5,975.5 1684.2,971.0 1685.0,981.2 1685.7,973.9 1686.4,974.4 1687.1,975.0 1687.8,974.9 1688.6,976.2 1689.3,974.6 1690.0,974.4 1690.7,971.4 1691.4,972.2 1692.2,963.9 1692.9,974.0 1693.6,972.4 1694.3,973.1 1695.0,974.7 1695.8,971.9 1696.5,976.7 1697.2,969.4 1697.9,981.4 1698.6,975.6 1699.4,970.6 1700.1,973.4 1700.8,974.8 1701.5,970.5 1702.2,972.6 1703.0,974.4 1703.7,972.9 1704.4,970.5 1705.1,967.2 1705.8,972.9 1706.6,973.0 1707.3,975.2 1708.0,972.8 1708.7,966.7 1709.4,967.0 1710.2,965.5 1710.9,971.1 1711.6,968.5" fill="none" stroke="#38ae6c" stroke-width="7.0" stroke-linejoin="round" stroke-linecap="round"/>
<path d="M142.0,1005.3 142.7,999.1 143.4,999.5 144.2,1003.4 144.9,1007.6 145.6,1004.5 146.3,995.6 147.0,992.3 147.8,999.2 148.5,994.6 149.2,1001.3 149.9,998.1 150.6,993.2 151.4,998.2 152.1,1000.3 152.8,997.6 153.5,992.7 154.2,999.7 155.0,998.2 155.7,1000.5 156.4,999.9 157.1,991.7 157.8,993.7 158.6,999.1 159.3,980.0 160.0,999.8 160.7,991.7 161.4,993.7 162.2,1002.9 162.9,995.3 163.6,994.1 164.3,998.9 165.0,994.3 165.8,992.2 166.5,996.6 167.2,1005.9 167.9,999.8 168.6,997.3 169.4,998.1 170.1,999.0 170.8,998.0 171.5,990.6 172.2,1000.9 173.0,995.0 173.7,1003.3 174.4,993.6 175.1,1009.6 175.8,988.8 176.6,996.1 177.3,991.0 178.0,990.1 178.7,998.3 179.4,989.5 180.2,993.7 180.9,990.8 181.6,996.3 182.3,995.6 183.0,983.4 183.8,997.7 184.5,991.1 185.2,1004.1 185.9,998.5 186.6,998.8 187.4,982.3 188.1,1002.7 188.8,994.2 189.5,987.4 190.2,995.5 191.0,1000.2 191.7,986.1 192.4,999.0 193.1,992.2 193.8,991.0 194.6,991.6 195.3,989.6 196.0,994.5 196.7,994.7 197.4,998.4 198.2,1000.0 198.9,991.7 199.6,998.2 200.3,987.6 201.0,996.0 201.8,987.7 202.5,990.1 203.2,995.4 203.9,989.0 204.6,994.6 205.4,985.4 206.1,988.7 206.8,994.3 207.5,998.6 208.2,986.0 209.0,998.5 209.7,992.2 210.4,1001.3 211.1,989.1 211.8,987.9 212.6,991.5 213.3,984.6 214.0,990.0 214.7,988.9 215.4,995.1 216.2,990.2 216.9,982.4 217.6,981.9 218.3,983.3 219.0,977.9 219.8,977.3 220.5,996.4 221.2,982.8 221.9,991.8 222.6,977.9 223.4,983.5 224.1,977.2 224.8,998.1 225.5,982.2 226.2,991.0 227.0,979.7 227.7,988.3 228.4,988.7 229.1,974.3 229.8,982.9 230.6,975.3 231.3,966.5 232.0,979.6 232.7,982.3 233.4,984.3 234.2,975.5 234.9,981.4 235.6,978.6 236.3,975.3 237.0,970.6 237.8,974.4 238.5,987.4 239.2,968.9 239.9,971.4 240.6,961.4 241.4,977.0 242.1,977.4 242.8,974.1 243.5,979.8 244.2,967.1 245.0,971.6 245.7,961.2 246.4,969.7 247.0,969.2 247.1,962.8 247.8,968.4 248.6,965.1 249.3,965.7 250.0,967.1 250.7,969.2 251.4,970.2 252.2,976.5 252.9,985.0 253.6,980.6 254.3,980.9 255.0,986.4 255.8,985.1 256.5,986.6 257.2,988.2 257.9,991.1 258.6,985.6 259.4,987.7 260.1,992.6 260.8,988.0 261.5,987.5 262.2,992.3 263.0,991.4 263.7,988.8 264.4,991.7 265.1,989.4 265.8,977.4 266.6,991.0 267.3,984.6 268.0,999.6 268.7,987.9 269.4,984.8 270.2,989.0 270.9,991.2 271.6,990.8 272.3,984.3 273.0,987.1 273.8,989.2 274.5,980.9 275.2,972.4 275.9,979.1 276.6,966.2 277.4,973.4 278.1,983.0 278.8,976.7 279.5,974.6 280.2,970.3 281.0,969.5 281.7,965.0 282.4,965.3 283.1,960.3 283.8,974.4 284.6,976.3 285.3,964.9 286.0,970.3 286.7,960.2 287.4,966.4 288.2,957.5 288.9,966.7 289.6,961.8 290.3,954.8 291.0,961.7 291.8,965.3 292.5,956.9 293.2,955.2 293.9,954.5 294.6,953.7 295.4,964.2 296.1,955.7 296.8,936.2 297.5,952.2 298.2,945.2 299.0,950.2 299.7,944.3 300.4,944.2 301.1,937.1 301.8,931.6 302.6,935.4 303.3,936.4 304.0,933.3 304.7,935.8 305.4,926.6 306.2,925.9 306.9,919.0 307.6,918.7 308.3,914.2 309.0,915.6 309.8,914.5 310.0,915.1 310.5,917.0 311.2,916.1 311.9,909.5 312.6,923.6 313.4,921.5 314.1,923.9 314.8,919.0 315.5,925.6 316.2,929.6 317.0,916.6 317.7,928.6 318.4,922.1 319.1,923.7 319.8,926.7 320.6,933.0 321.3,921.7 322.0,927.4 322.7,934.6 323.4,939.9 324.2,938.9 324.9,943.1 325.6,940.0 326.3,948.2 327.0,951.2 327.8,944.5 328.5,947.2 329.2,954.2 329.9,955.5 330.6,958.0 331.4,952.3 332.1,957.6 332.8,956.6 333.5,967.4 334.2,964.5 335.0,965.3 335.7,966.4 336.4,971.6 337.1,978.1 337.8,971.7 338.6,980.6 339.3,985.5 340.0,994.2 340.7,991.4 341.4,996.1 342.2,994.8 342.9,993.5 343.6,995.8 344.3,999.6 345.0,1003.4 345.8,1002.4 346.5,1004.2 347.2,1013.1 347.9,999.2 348.6,1005.0 349.4,1019.7 350.1,1012.2 350.8,1008.9 351.5,1007.6 352.2,1017.3 353.0,1017.8 353.7,1019.1 354.4,1010.1 355.1,1017.7 355.8,1017.0 356.6,1020.9 357.3,1005.7 358.0,1023.3 358.7,1028.3 359.4,1016.3 360.2,1027.0 360.9,1031.5 361.6,1028.7 362.3,1025.2 363.0,1026.8 363.8,1024.6 364.5,1028.6 365.2,1024.0 365.9,1029.3 366.6,1026.3 367.4,1024.4 368.1,1043.5 368.8,1023.8 369.5,1039.0 370.2,1023.0 371.0,1036.4 371.7,1033.6 372.4,1025.9 373.1,1031.0 373.8,1029.0 374.6,1029.5 375.3,1038.1 376.0,1028.9 376.7,1025.7 377.4,1039.9 378.2,1036.7 378.9,1035.1 379.6,1034.0 380.3,1038.7 381.0,1037.4 381.8,1035.3 382.5,1033.3 383.2,1041.3 383.9,1043.2 384.6,1038.8 385.4,1050.7 386.1,1038.0 386.8,1038.0 387.5,1044.3 388.2,1038.9 389.0,1038.9 389.7,1036.3 390.4,1040.3 391.1,1030.7 391.8,1035.3 392.6,1027.1 393.3,1029.1 394.0,1044.4 394.7,1036.0 395.4,1035.9 396.2,1042.0 396.9,1034.7 397.6,1045.0 398.3,1047.6 399.0,1034.8 399.8,1047.1 400.5,1042.9 401.2,1054.5 401.9,1043.3 402.6,1038.9 403.4,1029.0 404.1,1038.2 404.8,1041.1 405.5,1048.0 406.2,1050.2 407.0,1045.0 407.7,1050.1 408.4,1036.1 409.1,1038.9 409.8,1039.1 410.6,1044.7 411.3,1036.7 412.0,1041.4 412.7,1050.0 413.4,1048.4 414.2,1057.9 414.9,1041.2 415.6,1039.0 416.3,1044.8 417.0,1039.3 417.8,1043.0 418.5,1042.7 419.2,1045.6 419.9,1049.6 420.6,1057.3 421.4,1047.1 422.1,1041.7 422.8,1045.6 423.5,1040.7 424.2,1038.1 425.0,1035.1 425.7,1039.3 426.4,1047.5 427.1,1044.8 427.8,1042.1 428.6,1044.1 429.3,1038.6 430.0,1048.7 430.7,1041.6 431.4,1039.3 432.2,1048.0 432.9,1039.8 433.6,1041.8 434.3,1046.8 435.0,1036.3 435.8,1036.9 436.5,1038.8 437.2,1039.6 437.9,1047.7 438.6,1043.1 439.4,1044.7 440.1,1027.0 440.8,1040.6 441.5,1039.4 442.2,1040.4 443.0,1038.3 443.7,1034.4 444.4,1040.4 445.1,1036.1 445.8,1036.7 446.6,1030.4 447.3,1035.3 448.0,1042.1 448.7,1039.4 449.4,1035.3 450.2,1035.6 450.9,1033.2 451.6,1038.7 452.3,1032.5 453.0,1032.9 453.8,1034.4 454.5,1031.7 455.2,1036.9 455.9,1040.4 456.6,1032.8 457.4,1039.1 458.1,1036.4 458.8,1032.8 459.5,1034.8 460.2,1037.8 461.0,1027.3 461.7,1034.0 462.4,1036.1 463.1,1026.9 463.8,1035.9 464.6,1032.5 465.3,1025.6 466.0,1034.4 466.7,1022.6 467.4,1023.5 468.2,1023.1 468.9,1028.3 469.6,1026.3 470.3,1025.1 471.0,1025.0 471.8,1024.3 472.5,1020.5 473.2,1017.7 473.9,1016.3 474.6,1013.1 475.0,1013.4 475.4,1015.5 476.1,1015.7 476.8,1014.2 477.5,1025.9 478.2,1019.2 479.0,1031.2 479.7,1026.7 480.4,1031.1 481.1,1023.6 481.8,1028.4 482.6,1030.5 483.3,1032.4 484.0,1033.3 484.7,1035.6 485.4,1038.2 486.2,1038.6 486.9,1041.1 487.6,1043.3 488.3,1035.0 489.0,1043.1 489.8,1041.3 490.5,1043.7 491.2,1046.0 491.9,1038.8 492.6,1042.3 493.4,1047.5 494.1,1054.0 494.8,1041.3 495.5,1047.0 496.2,1044.4 497.0,1043.2 497.7,1040.7 498.4,1043.7 499.1,1045.2 499.8,1039.3 500.6,1043.8 501.3,1036.6 502.0,1029.1 502.7,1043.4 503.4,1039.8 504.2,1036.9 504.9,1041.6 505.6,1042.9 506.3,1039.7 507.0,1045.7 507.8,1035.9 508.5,1035.8 509.2,1042.3 509.9,1033.8 510.6,1040.7 511.4,1030.7 512.1,1033.0 512.8,1036.0 513.5,1034.7 514.2,1042.3 515.0,1031.6 515.7,1035.0 516.4,1035.4 517.1,1033.3 517.8,1038.7 518.6,1031.0 519.3,1030.8 520.0,1028.3 520.7,1035.8 521.4,1032.7 522.2,1032.3 522.9,1031.5 523.6,1025.3 524.3,1031.8 525.0,1030.6 525.8,1034.8 526.5,1030.0 527.2,1024.5 527.9,1026.0 528.6,1034.3 529.4,1021.5 530.1,1012.7 530.8,1026.5 531.5,1031.1 532.2,1025.1 533.0,1019.6 533.7,1033.3 534.4,1016.1 535.1,1027.0 535.8,1029.2 536.6,1023.2 537.3,1024.9 538.0,1035.1 538.7,1016.6 539.4,1024.4 540.2,1031.9 540.9,1025.2 541.6,1018.4 542.3,1021.0 543.0,1016.9 543.8,1016.3 544.5,1014.8 545.2,1018.5 545.9,1016.4 546.6,1017.7 547.4,1006.7 548.1,1009.0 548.8,1011.0 549.5,1014.1 550.2,1003.8 551.0,997.9 551.7,1000.5 552.4,1000.8 553.1,1002.0 553.8,1000.4 554.6,996.9 555.3,993.1 556.0,997.1 556.7,989.5 557.4,990.5 558.2,994.2 558.9,987.5 559.6,987.8 560.3,990.5 561.0,984.3 561.8,986.5 562.5,986.2 563.2,995.6 563.9,989.5 564.6,982.8 565.4,988.4 566.1,980.7 566.8,986.1 567.5,978.0 568.2,986.2 569.0,982.5 569.7,978.0 570.4,983.3 571.1,984.1 571.8,981.7 572.6,980.1 573.3,973.4 574.0,986.1 574.7,968.5 575.4,973.7 576.2,981.1 576.9,964.7 577.6,968.6 578.3,970.5 579.0,973.2 579.8,972.0 580.0,977.5 580.5,972.3 581.2,970.5 581.9,978.7 582.6,973.2 583.4,977.7 584.1,981.8 584.8,980.8 585.5,985.0 586.2,978.2 587.0,982.0 587.7,984.7 588.4,982.6 589.1,988.8 589.8,989.0 590.6,987.4 591.3,987.7 592.0,985.5 592.7,982.4 593.4,983.3 594.2,984.1 594.9,986.7 595.6,983.4 596.3,984.2 597.0,978.4 597.8,977.2 598.5,981.4 599.2,982.2 599.9,976.0 600.6,978.7 601.4,977.9 602.1,973.0 602.8,970.5 603.5,967.1 604.2,965.8 605.0,964.2 605.0,963.2 605.7,967.1 606.4,966.6 607.1,966.4 607.8,971.3 608.6,970.0 609.3,974.4 610.0,969.3 610.7,974.7 611.4,982.6 612.2,985.2 612.9,987.7 613.6,988.2 614.3,990.4 615.0,985.7 615.8,984.5 616.5,979.3 617.2,990.0 617.9,988.9 618.6,996.4 619.4,990.7 620.1,998.1 620.8,986.5 621.5,1000.0 622.2,993.2 623.0,999.5 623.7,998.3 624.4,991.4 625.1,998.7 625.8,993.5 626.6,999.5 627.3,998.9 628.0,998.8 628.7,997.6 629.4,998.0 630.2,999.8 630.9,993.4 631.6,1004.5 632.3,1002.5 633.0,1004.7 633.8,1002.6 634.5,1008.0 635.2,1007.0 635.9,1015.8 636.6,999.9 637.4,1018.4 638.1,1011.9 638.8,1018.3 639.5,1017.6 640.2,1016.7 641.0,1014.6 641.7,1025.8 642.4,1019.2 643.1,1024.7 643.8,1031.8 644.6,1033.2 645.3,1030.9 646.0,1025.0 646.7,1031.5 647.4,1033.4 648.2,1031.0 648.9,1040.5 649.6,1037.2 650.3,1038.5 651.0,1037.9 651.8,1034.2 652.5,1036.8 653.2,1033.2 653.9,1046.4 654.6,1043.0 655.4,1047.9 656.1,1045.8 656.8,1046.4 657.5,1051.4 658.2,1049.2 659.0,1047.8 659.7,1047.8 660.4,1059.0 661.1,1041.1 661.8,1053.5 662.6,1044.3 663.3,1051.0 664.0,1048.2 664.7,1050.6 665.4,1049.0 666.2,1037.0 666.9,1046.0 667.6,1047.5 668.3,1045.7 669.0,1043.8 669.8,1053.4 670.5,1047.6 671.2,1052.2 671.9,1056.7 672.6,1048.0 673.4,1051.6 674.1,1056.9 674.8,1051.4 675.5,1051.3 676.2,1044.7 677.0,1058.1 677.7,1052.0 678.4,1047.9 679.1,1056.3 679.8,1051.4 680.6,1052.7 681.3,1050.5 682.0,1055.8 682.7,1055.4 683.4,1051.0 684.2,1052.9 684.9,1058.6 685.6,1053.0 686.3,1050.5 687.0,1057.8 687.8,1049.4 688.5,1052.1 689.2,1046.8 689.9,1047.9 690.6,1049.1 691.4,1053.4 692.1,1061.0 692.8,1049.1 693.5,1053.7 694.2,1050.2 695.0,1053.2 695.7,1047.3 696.4,1051.3 697.1,1049.6 697.8,1051.4 698.6,1059.4 699.3,1051.1 700.0,1055.1 700.0,1053.9 700.7,1044.6 701.4,1051.6 702.2,1054.1 702.9,1044.9 703.6,1047.8 704.3,1062.5 705.0,1051.6 705.8,1049.9 706.5,1052.0 707.2,1048.9 707.9,1053.0 708.6,1053.8 709.4,1052.2 710.1,1059.4 710.8,1060.9 711.5,1058.5 712.2,1051.8 713.0,1053.2 713.7,1050.4 714.4,1057.3 715.1,1054.4 715.8,1054.3 716.6,1054.1 717.3,1058.9 718.0,1058.4 718.7,1053.0 719.4,1062.4 720.2,1058.7 720.9,1052.2 721.6,1060.1 722.3,1053.8 723.0,1068.4 723.8,1061.6 724.5,1061.5 725.2,1065.0 725.9,1052.8 726.6,1057.1 727.4,1054.7 728.1,1052.0 728.8,1050.2 729.5,1059.0 730.2,1053.5 731.0,1050.4 731.7,1051.7 732.4,1065.4 733.1,1053.1 733.8,1049.9 734.6,1051.3 735.3,1056.5 736.0,1051.0 736.7,1050.2 737.4,1050.3 738.2,1048.1 738.9,1048.7 739.6,1054.6 740.3,1048.1 741.0,1048.1 741.8,1037.3 742.5,1050.0 743.2,1051.5 743.9,1043.9 744.6,1047.6 745.4,1041.3 746.1,1045.8 746.8,1045.3 747.5,1035.2 748.2,1046.6 749.0,1046.7 749.7,1040.6 750.4,1036.4 751.1,1039.6 751.8,1038.3 752.6,1041.4 753.3,1036.9 754.0,1035.8 754.7,1038.9 755.4,1036.7 756.2,1033.9 756.9,1027.2 757.6,1029.0 758.3,1028.1 759.0,1026.5 759.8,1026.7 760.5,1030.4 761.2,1022.7 761.9,1023.0 762.6,1015.8 763.4,1024.1 764.1,1018.1 764.8,1019.5 765.5,1017.4 766.2,1012.1 767.0,1015.8 767.7,1005.8 768.4,1006.0 769.1,1010.2 769.8,1000.9 770.6,1002.5 771.3,998.9 772.0,993.9 772.7,998.1 773.4,990.6 774.2,990.5 774.9,991.6 775.6,977.9 776.3,979.2 777.0,979.1 777.8,973.0 778.5,978.1 779.2,968.5 779.9,964.0 780.6,961.1 781.4,954.4 782.1,948.8 782.8,944.0 783.5,944.5 784.2,936.9 785.0,938.3 785.7,922.1 786.4,920.1 787.1,914.2 787.8,919.5 788.6,910.6 789.3,906.7 790.0,896.6 790.7,899.0 791.4,885.3 792.2,883.7 792.9,876.8 793.6,875.6 794.3,862.7 795.0,859.2 795.8,852.2 796.5,848.9 797.2,843.3 797.9,839.9 798.6,834.3 799.4,824.5 800.1,819.2 800.8,814.4 801.5,809.5 802.2,803.1 803.0,799.5 803.7,793.8 804.4,789.9 805.1,782.0 805.8,779.1 806.6,773.3 807.3,767.3 808.0,765.8 808.7,763.9 809.4,759.6 810.2,756.1 810.9,755.3 811.6,754.3 812.0,753.6 812.3,753.7 813.0,751.6 813.8,757.2 814.5,761.6 815.2,765.1 815.9,767.3 816.6,773.1 817.4,774.6 818.1,778.8 818.8,784.9 819.5,790.2 820.2,794.0 821.0,800.7 821.7,809.6 822.4,812.6 823.1,820.5 823.8,827.4 824.6,835.2 825.3,839.5 826.0,847.2 826.7,856.7 827.4,861.0 828.2,868.2 828.9,875.5 829.6,887.7 830.3,893.6 831.0,900.6 831.8,905.6 832.5,912.4 833.2,916.0 833.9,920.4 834.6,923.8 835.4,927.7 836.1,933.8 836.8,930.9 837.5,935.8 838.2,937.1 839.0,939.1 839.7,943.6 840.4,948.2 841.1,948.0 841.8,950.5 842.6,954.0 843.3,954.6 844.0,955.1 844.7,958.7 845.4,961.6 846.2,959.1 846.9,968.8 847.6,969.7 848.3,974.2 849.0,975.4 849.8,973.0 850.5,977.7 851.2,982.7 851.9,981.1 852.6,992.3 853.4,981.4 854.1,999.1 854.8,997.1 855.5,1000.7 856.2,997.5 857.0,1003.1 857.7,1005.4 858.4,1014.0 859.1,1022.0 859.8,1020.1 860.6,1009.6 861.3,1020.1 862.0,1018.7 862.7,1025.3 863.4,1026.9 864.2,1025.9 864.9,1030.3 865.6,1038.5 866.3,1038.9 867.0,1040.3 867.8,1044.7 868.5,1044.3 869.2,1050.4 869.9,1049.8 870.6,1055.4 871.4,1050.7 872.1,1057.3 872.8,1057.1 873.5,1056.0 874.2,1057.9 875.0,1061.6 875.7,1067.0 876.4,1062.2 877.1,1063.8 877.8,1063.8 878.6,1064.4 879.3,1076.4 880.0,1069.8 880.7,1073.2 881.4,1067.6 882.2,1071.0 882.9,1069.9 883.6,1080.1 884.3,1072.5 885.0,1077.5 885.8,1073.6 886.5,1072.5 887.2,1071.5 887.9,1073.4 888.6,1078.2 889.4,1075.4 890.1,1078.0 890.8,1081.1 891.5,1083.7 892.2,1077.4 893.0,1080.4 893.7,1079.1 894.4,1084.6 895.1,1084.9 895.8,1086.6 896.6,1083.7 897.3,1086.7 898.0,1084.3 898.7,1090.8 899.4,1088.5 900.2,1088.5 900.9,1091.4 901.6,1093.0 902.3,1089.7 903.0,1091.7 903.8,1094.2 904.5,1091.2 905.2,1089.5 905.9,1090.5 906.6,1095.3 907.4,1093.8 908.1,1089.7 908.8,1092.0 909.5,1095.9 910.2,1094.0 911.0,1091.6 911.7,1090.5 912.4,1095.0 913.1,1100.0 913.8,1094.2 914.6,1092.2 915.3,1092.2 916.0,1098.4 916.7,1088.9 917.4,1093.8 918.2,1095.3 918.9,1093.7 919.6,1102.6 920.3,1096.7 921.0,1096.7 921.8,1099.7 922.5,1096.4 923.2,1091.3 923.9,1097.7 924.6,1093.2 925.4,1092.7 926.1,1101.4 926.8,1091.0 927.5,1098.1 928.2,1098.2 929.0,1099.4 929.7,1109.2 930.4,1092.2 931.1,1099.1 931.8,1103.0 932.6,1100.1 933.3,1098.0 934.0,1099.1 934.7,1104.5 935.4,1097.3 936.2,1106.9 936.9,1107.6 937.6,1102.6 938.3,1103.9 939.0,1104.5 939.8,1102.4 940.5,1104.9 941.2,1097.6 941.9,1099.3 942.6,1102.0 943.4,1103.1 944.1,1107.3 944.8,1106.7 945.5,1109.0 946.2,1106.9 947.0,1107.2 947.7,1109.1 948.4,1105.5 949.1,1105.7 949.8,1106.9 950.6,1099.1 951.3,1108.0 952.0,1109.3 952.7,1107.3 953.4,1108.3 954.2,1109.5 954.9,1115.2 955.6,1116.3 956.3,1110.3 957.0,1116.6 957.8,1113.5 958.5,1111.1 959.2,1112.6 959.9,1113.0 960.6,1113.4 961.4,1112.0 962.1,1117.0 962.8,1112.4 963.5,1115.6 964.2,1119.5 965.0,1123.4 965.7,1118.4 966.4,1119.4 967.1,1121.6 967.8,1119.4 968.6,1123.8 969.3,1114.1 970.0,1121.7 970.7,1118.6 971.4,1121.6 972.2,1125.0 972.9,1121.6 973.6,1120.4 974.3,1122.0 975.0,1120.5 975.8,1122.2 976.5,1120.9 977.2,1119.9 977.9,1118.1 978.6,1124.1 979.4,1121.4 980.1,1118.6 980.8,1118.9 981.5,1122.8 982.2,1120.1 983.0,1123.3 983.7,1126.1 984.4,1132.4 985.1,1124.1 985.8,1127.8 986.6,1118.6 987.3,1117.8 988.0,1123.8 988.7,1124.7 989.4,1118.9 990.2,1126.6 990.9,1125.3 991.6,1124.7 992.3,1125.1 993.0,1122.3 993.8,1126.8 994.5,1124.5 995.2,1123.0 995.9,1125.6 996.6,1121.0 997.4,1123.0 998.1,1123.0 998.8,1125.0 999.5,1123.3 1000.2,1125.1 1001.0,1120.6 1001.7,1121.0 1002.4,1126.0 1003.1,1123.7 1003.8,1122.6 1004.6,1125.7 1005.3,1125.9 1006.0,1128.0 1006.7,1126.4 1007.4,1123.1 1008.2,1125.5 1008.9,1128.5 1009.6,1129.1 1010.3,1123.8 1011.0,1129.2 1011.8,1123.7 1012.5,1125.3 1013.2,1120.6 1013.9,1126.2 1014.6,1126.9 1015.4,1125.5 1016.1,1126.1 1016.8,1124.1 1017.5,1127.8 1018.2,1124.8 1019.0,1128.1 1019.7,1127.7 1020.4,1126.8 1021.1,1127.6 1021.8,1127.6 1022.6,1126.4 1023.3,1122.6 1024.0,1131.8 1024.7,1133.8 1025.4,1128.1 1026.2,1125.2 1026.9,1128.2 1027.6,1123.6 1028.3,1129.2 1029.0,1137.7 1029.8,1131.2 1030.5,1129.4 1031.2,1122.3 1031.9,1127.0 1032.6,1124.3 1033.4,1133.0 1034.1,1127.9 1034.8,1127.4 1035.5,1129.9 1036.2,1131.5 1037.0,1130.3 1037.7,1126.4 1038.4,1129.6 1039.1,1130.2 1039.8,1127.8 1040.6,1130.8 1041.3,1126.7 1042.0,1130.5 1042.7,1137.2 1043.4,1130.3 1044.2,1126.5 1044.9,1130.5 1045.6,1131.6 1046.3,1131.3 1047.0,1126.5 1047.8,1129.2 1048.5,1130.4 1049.2,1138.3 1049.9,1131.5 1050.6,1128.8 1051.4,1132.9 1052.1,1128.9 1052.8,1129.6 1053.5,1134.4 1054.2,1133.4 1055.0,1130.6 1055.7,1127.5 1056.4,1120.9 1057.1,1130.1 1057.8,1127.0 1058.6,1132.9 1059.3,1133.2 1060.0,1126.0 1060.7,1121.2 1061.4,1128.5 1062.2,1130.1 1062.9,1132.6 1063.6,1125.9 1064.3,1123.5 1065.0,1128.8 1065.8,1128.1 1066.5,1129.0 1067.2,1139.5 1067.9,1126.1 1068.6,1137.0 1069.4,1128.2 1070.1,1131.1 1070.8,1132.2 1071.5,1129.0 1072.2,1119.7 1073.0,1126.7 1073.7,1129.1 1074.4,1125.1 1075.1,1125.6 1075.8,1128.1 1076.6,1126.6 1077.3,1131.9 1078.0,1131.8 1078.7,1122.1 1079.4,1131.5 1080.2,1127.5 1080.9,1129.1 1081.6,1133.9 1082.3,1130.7 1083.0,1129.0 1083.8,1127.3 1084.5,1130.3 1085.2,1131.6 1085.9,1132.4 1086.6,1128.5 1087.4,1135.9 1088.1,1129.7 1088.8,1135.5 1089.5,1130.4 1090.2,1135.2 1091.0,1135.0 1091.7,1127.8 1092.4,1129.7 1093.1,1129.7 1093.8,1132.4 1094.6,1127.6 1095.3,1126.8 1096.0,1139.3 1096.7,1132.5 1097.4,1133.8 1098.2,1130.9 1098.9,1131.4 1099.6,1132.7 1100.3,1131.3 1101.0,1129.7 1101.8,1129.5 1102.5,1134.7 1103.2,1128.3 1103.9,1132.4 1104.6,1131.6 1105.4,1129.7 1106.1,1132.9 1106.8,1129.0 1107.5,1123.9 1108.2,1133.0 1109.0,1130.8 1109.7,1133.4 1110.4,1133.7 1111.1,1130.0 1111.8,1134.2 1112.6,1129.4 1113.3,1136.9 1114.0,1126.5 1114.7,1130.0 1115.4,1129.2 1116.2,1126.2 1116.9,1127.0 1117.6,1129.9 1118.3,1120.1 1119.0,1129.8 1119.8,1132.1 1120.5,1126.3 1121.2,1127.3 1121.9,1125.3 1122.6,1125.8 1123.4,1129.1 1124.1,1127.1 1124.8,1127.4 1125.5,1130.1 1126.2,1130.7 1127.0,1126.0 1127.7,1128.0 1128.4,1127.5 1129.1,1120.2 1129.8,1129.5 1130.6,1132.2 1131.3,1130.4 1132.0,1127.0 1132.7,1133.0 1133.4,1132.2 1134.2,1124.1 1134.9,1128.7 1135.6,1132.3 1136.3,1128.2 1137.0,1137.5 1137.8,1134.3 1138.5,1129.5 1139.2,1129.9 1139.9,1129.8 1140.6,1138.9 1141.4,1132.4 1142.1,1126.7 1142.8,1125.7 1143.5,1127.9 1144.2,1127.0 1145.0,1126.7 1145.7,1132.4 1146.4,1130.0 1147.1,1132.5 1147.8,1132.8 1148.6,1127.1 1149.3,1135.7 1150.0,1134.5 1150.7,1128.1 1151.4,1127.3 1152.2,1127.4 1152.9,1131.1 1153.6,1128.0 1154.3,1130.2 1155.0,1134.3 1155.8,1128.9 1156.5,1127.9 1157.2,1130.0 1157.9,1129.4 1158.6,1125.4 1159.4,1123.0 1160.1,1127.3 1160.8,1126.4 1161.5,1125.9 1162.2,1127.2 1163.0,1128.2 1163.7,1124.1 1164.4,1128.5 1165.1,1123.5 1165.8,1125.3 1166.6,1126.2 1167.3,1130.3 1168.0,1128.7 1168.7,1126.1 1169.4,1124.4 1170.2,1125.5 1170.9,1125.2 1171.6,1121.9 1172.3,1123.6 1173.0,1122.4 1173.8,1123.9 1174.5,1118.1 1175.2,1118.7 1175.9,1116.3 1176.6,1124.7 1177.4,1121.1 1178.1,1122.1 1178.8,1116.6 1179.5,1123.4 1180.2,1122.5 1181.0,1125.3 1181.7,1125.6 1182.0,1122.8 1182.4,1122.2 1183.1,1122.8 1183.8,1122.0 1184.6,1121.9 1185.3,1122.9 1186.0,1123.9 1186.7,1122.0 1187.4,1123.6 1188.2,1130.0 1188.9,1124.4 1189.6,1123.4 1190.3,1128.5 1191.0,1125.1 1191.8,1127.5 1192.5,1125.2 1193.2,1129.8 1193.9,1128.2 1194.6,1126.0 1195.4,1132.8 1196.1,1134.1 1196.8,1132.3 1197.5,1137.6 1198.2,1129.5 1199.0,1130.0 1199.7,1134.0 1200.4,1136.3 1201.1,1133.4 1201.8,1132.6 1202.6,1130.6 1203.3,1139.3 1204.0,1132.0 1204.7,1135.7 1205.4,1134.4 1206.2,1129.4 1206.9,1136.3 1207.6,1131.8 1208.3,1134.9 1209.0,1137.3 1209.8,1133.1 1210.5,1138.8 1211.2,1137.9 1211.9,1133.4 1212.6,1136.2 1213.4,1137.5 1214.1,1139.1 1214.8,1132.7 1215.5,1139.8 1216.2,1130.8 1217.0,1129.9 1217.7,1135.5 1218.4,1130.5 1219.1,1138.6 1219.8,1127.7 1220.6,1133.4 1221.3,1135.3 1222.0,1128.2 1222.7,1136.4 1223.4,1128.8 1224.2,1134.2 1224.9,1133.8 1225.6,1133.8 1226.3,1135.6 1227.0,1138.7 1227.8,1130.5 1228.5,1130.1 1229.2,1133.2 1229.9,1127.9 1230.6,1136.7 1231.4,1132.2 1232.1,1139.5 1232.8,1134.2 1233.5,1130.7 1234.2,1129.4 1235.0,1136.0 1235.7,1123.0 1236.4,1130.7 1237.1,1138.0 1237.8,1131.5 1238.6,1133.5 1239.3,1131.3 1240.0,1132.8 1240.7,1128.6 1241.4,1131.1 1242.2,1134.3 1242.9,1130.4 1243.6,1130.6 1244.3,1138.5 1245.0,1132.9 1245.8,1130.2 1246.5,1126.9 1247.2,1125.9 1247.9,1129.5 1248.6,1128.7 1249.4,1133.6 1250.1,1137.7 1250.8,1132.9 1251.5,1126.2 1252.2,1126.6 1253.0,1122.4 1253.7,1127.8 1254.4,1128.5 1255.1,1129.3 1255.8,1123.4 1256.6,1126.9 1257.3,1125.7 1258.0,1128.5 1258.7,1121.0 1259.4,1129.0 1260.2,1124.9 1260.9,1124.4 1261.6,1115.4 1262.3,1122.4 1263.0,1125.7 1263.8,1122.8 1264.5,1123.9 1265.2,1119.6 1265.9,1122.7 1266.6,1119.7 1267.4,1116.7 1268.1,1117.8 1268.8,1119.3 1269.5,1122.6 1270.2,1121.5 1271.0,1125.1 1271.7,1121.7 1272.4,1120.7 1273.1,1118.7 1273.8,1121.6 1274.6,1119.5 1275.3,1113.8 1276.0,1119.0 1276.7,1118.9 1277.4,1118.3 1278.2,1126.6 1278.9,1120.1 1279.6,1120.5 1280.3,1119.6 1281.0,1116.2 1281.8,1118.1 1282.5,1117.9 1283.2,1117.8 1283.9,1114.6 1284.6,1118.8 1285.4,1115.5 1286.1,1107.5 1286.8,1113.0 1287.5,1112.7 1288.2,1115.5 1289.0,1111.6 1289.7,1110.7 1290.4,1112.2 1291.1,1113.4 1291.8,1119.2 1292.6,1116.0 1293.3,1107.8 1294.0,1112.6 1294.7,1114.3 1295.4,1116.7 1296.2,1113.1 1296.9,1122.3 1297.6,1111.0 1298.3,1121.4 1299.0,1111.4 1299.8,1111.8 1300.5,1112.6 1301.2,1109.9 1301.9,1108.0 1302.6,1111.1 1303.4,1110.0 1304.1,1112.6 1304.8,1110.1 1305.5,1105.6 1306.2,1109.6 1307.0,1103.2 1307.7,1100.0 1308.4,1102.7 1309.1,1100.7 1309.8,1099.3 1310.6,1102.9 1311.3,1098.9 1312.0,1095.3 1312.7,1095.5 1313.4,1096.6 1314.2,1088.8 1314.9,1095.2 1315.6,1093.4 1316.3,1093.1 1317.0,1094.5 1317.8,1093.3 1318.5,1087.4 1319.2,1090.7 1319.9,1087.1 1320.6,1082.2 1321.4,1084.2 1322.1,1082.7 1322.8,1083.3 1323.5,1078.6 1324.2,1077.4 1325.0,1079.2 1325.7,1072.1 1326.4,1074.5 1327.1,1072.6 1327.8,1073.9 1328.6,1072.2 1329.3,1067.2 1330.0,1061.1 1330.7,1070.8 1331.4,1063.4 1332.2,1064.3 1332.9,1061.1 1333.6,1056.1 1334.3,1060.0 1335.0,1055.6 1335.8,1054.8 1336.5,1053.3 1337.2,1056.9 1337.9,1047.8 1338.6,1046.2 1339.4,1043.2 1340.1,1042.0 1340.8,1041.4 1341.5,1036.3 1342.2,1036.7 1343.0,1034.0 1343.7,1031.5 1344.4,1029.1 1345.1,1033.4 1345.8,1023.1 1346.6,1022.7 1347.3,1017.9 1348.0,1019.2 1348.7,1016.7 1349.4,1012.1 1350.2,1007.4 1350.9,1011.0 1351.6,1007.4 1352.3,997.5 1353.0,996.7 1353.8,995.5 1354.5,992.8 1355.2,990.1 1355.9,988.4 1356.6,983.0 1357.4,980.3 1358.1,979.0 1358.8,973.0 1359.5,974.3 1360.2,967.7 1361.0,966.6 1361.7,962.0 1362.4,959.8 1363.1,955.3 1363.8,952.0 1364.6,949.4 1365.3,946.5 1366.0,947.5 1366.0,945.6 1366.7,947.5 1367.4,946.7 1368.2,949.4 1368.9,950.4 1369.6,952.8 1370.3,955.5 1371.0,955.0 1371.8,951.8 1372.5,952.2 1373.2,950.4 1373.9,951.0 1374.6,946.1 1375.4,947.4 1376.1,941.7 1376.8,944.2 1377.5,940.3 1378.2,938.5 1379.0,938.7 1379.0,939.2 1379.7,938.8 1380.4,942.6 1381.1,944.2 1381.8,946.4 1382.6,948.6 1383.3,955.8 1384.0,958.8 1384.7,962.4 1385.4,963.6 1386.2,964.7 1386.9,970.9 1387.6,971.5 1388.3,968.5 1389.0,977.1 1389.8,979.2 1390.5,981.0 1391.2,989.6 1391.9,980.7 1392.6,992.1 1393.4,991.8 1394.1,994.3 1394.8,997.3 1395.5,1001.7 1396.2,1001.0 1397.0,1006.5 1397.7,1012.3 1398.4,1014.9 1399.1,1013.1 1399.8,1017.0 1400.6,1018.7 1401.3,1021.9 1402.0,1029.3 1402.7,1032.1 1403.4,1030.8 1404.2,1038.7 1404.9,1040.0 1405.6,1042.3 1406.3,1040.8 1407.0,1042.4 1407.8,1046.9 1408.5,1049.7 1409.2,1045.1 1409.9,1050.6 1410.6,1052.1 1411.4,1061.6 1412.1,1052.4 1412.8,1055.3 1413.5,1057.2 1414.2,1058.8 1415.0,1059.5 1415.7,1065.9 1416.4,1062.1 1417.1,1064.7 1417.8,1065.2 1418.6,1068.8 1419.3,1074.0 1420.0,1073.5 1420.7,1076.5 1421.4,1077.8 1422.2,1077.7 1422.9,1075.6 1423.6,1081.7 1424.3,1082.6 1425.0,1082.7 1425.8,1084.3 1426.5,1085.4 1427.2,1086.3 1427.9,1087.3 1428.6,1089.0 1429.4,1093.1 1430.1,1100.9 1430.8,1095.7 1431.5,1090.7 1432.2,1096.9 1433.0,1098.9 1433.7,1103.6 1434.4,1098.4 1435.1,1097.1 1435.8,1103.8 1436.6,1101.8 1437.3,1108.2 1438.0,1101.9 1438.7,1110.3 1439.4,1103.6 1440.2,1111.9 1440.9,1108.6 1441.6,1111.2 1442.3,1111.1 1443.0,1113.1 1443.8,1111.9 1444.5,1113.9 1445.2,1109.6 1445.9,1112.9 1446.6,1110.7 1447.4,1114.3 1448.1,1115.6 1448.8,1115.4 1449.5,1123.2 1450.2,1119.0 1451.0,1119.0 1451.7,1120.4 1452.4,1122.4 1453.1,1117.1 1453.8,1118.7 1454.6,1120.3 1455.3,1118.2 1456.0,1119.9 1456.7,1117.7 1457.4,1119.2 1458.2,1126.3 1458.9,1122.7 1459.6,1119.0 1460.3,1126.1 1461.0,1124.0 1461.8,1120.6 1462.5,1124.1 1463.2,1125.9 1463.9,1127.8 1464.6,1126.3 1465.4,1131.3 1466.1,1128.4 1466.8,1135.6 1467.5,1136.3 1468.2,1134.6 1469.0,1134.7 1469.7,1129.0 1470.4,1135.7 1471.1,1139.6 1471.8,1137.9 1472.6,1135.1 1473.3,1132.2 1474.0,1137.9 1474.7,1134.5 1475.4,1136.7 1476.2,1138.6 1476.9,1139.5 1477.6,1135.3 1478.3,1139.8 1479.0,1139.0 1479.8,1137.4 1480.5,1136.7 1481.2,1139.5 1481.9,1143.0 1482.6,1138.0 1483.4,1141.5 1484.1,1137.3 1484.8,1138.3 1485.5,1139.7 1486.2,1139.7 1487.0,1139.8 1487.7,1136.0 1488.4,1139.0 1489.1,1139.6 1489.8,1142.5 1490.6,1141.8 1491.3,1143.0 1492.0,1144.1 1492.7,1141.2 1493.4,1139.9 1494.2,1139.8 1494.9,1145.6 1495.6,1143.9 1496.3,1145.6 1497.0,1144.7 1497.8,1141.7 1498.5,1143.2 1499.2,1142.4 1499.9,1146.9 1500.6,1145.1 1501.4,1145.3 1502.1,1142.0 1502.8,1144.3 1503.5,1141.8 1504.2,1139.6 1505.0,1143.6 1505.7,1138.6 1506.4,1139.1 1507.1,1141.3 1507.8,1141.6 1508.6,1137.5 1509.3,1138.2 1510.0,1140.7 1510.7,1135.8 1511.4,1131.5 1512.2,1138.9 1512.9,1135.4 1513.6,1135.7 1514.3,1137.6 1515.0,1135.3 1515.0,1135.7 1515.8,1138.2 1516.5,1137.5 1517.2,1136.7 1517.9,1135.7 1518.6,1136.0 1519.4,1140.3 1520.1,1140.4 1520.8,1138.0 1521.5,1141.5 1522.2,1136.8 1523.0,1146.8 1523.7,1144.2 1524.4,1142.8 1525.1,1147.7 1525.8,1146.8 1526.6,1146.1 1527.3,1146.8 1528.0,1147.4 1528.7,1150.0 1529.4,1150.0 1530.2,1148.1 1530.9,1146.6 1531.6,1148.9 1532.3,1150.4 1533.0,1147.7 1533.8,1147.9 1534.5,1149.6 1535.2,1150.9 1535.9,1151.9 1536.6,1153.1 1537.4,1146.0 1538.1,1153.2 1538.8,1151.7 1539.5,1147.6 1540.2,1155.9 1541.0,1146.1 1541.7,1146.6 1542.4,1156.2 1543.1,1148.2 1543.8,1152.1 1544.6,1148.9 1545.3,1150.5 1546.0,1149.2 1546.7,1157.7 1547.4,1146.9 1548.2,1152.0 1548.9,1149.5 1549.6,1149.5 1550.3,1154.2 1551.0,1150.0 1551.8,1152.0 1552.5,1153.6 1553.2,1152.6 1553.9,1154.1 1554.6,1155.2 1555.4,1153.2 1556.1,1151.9 1556.8,1152.6 1557.5,1151.7 1558.2,1155.2 1559.0,1148.4 1559.7,1153.7 1560.4,1156.7 1561.1,1151.1 1561.8,1149.1 1562.6,1155.1 1563.3,1153.3 1564.0,1152.8 1564.7,1153.0 1565.4,1153.6 1566.2,1154.1 1566.9,1152.9 1567.6,1151.6 1568.3,1154.5 1569.0,1155.0 1569.8,1151.7 1570.5,1148.5 1571.2,1156.0 1571.9,1155.5 1572.6,1155.3 1573.4,1152.3 1574.1,1156.4 1574.8,1154.6 1575.5,1152.7 1576.2,1149.0 1577.0,1157.8 1577.7,1154.0 1578.4,1153.6 1579.1,1151.3 1579.8,1155.5 1580.6,1153.2 1581.3,1158.1 1582.0,1154.2 1582.7,1155.0 1583.4,1151.7 1584.2,1146.4 1584.9,1151.4 1585.6,1152.5 1586.3,1150.5 1587.0,1151.0 1587.8,1150.5 1588.5,1154.8 1589.2,1155.8 1589.9,1151.9 1590.6,1157.5 1591.4,1154.9 1592.1,1154.0 1592.8,1154.6 1593.5,1158.3 1594.2,1155.6 1595.0,1156.7 1595.7,1161.5 1596.4,1153.3 1597.1,1153.4 1597.8,1155.1 1598.6,1148.1 1599.3,1150.0 1600.0,1151.9 1600.7,1158.4 1601.4,1155.3 1602.2,1152.9 1602.9,1151.8 1603.6,1155.7 1604.3,1156.3 1605.0,1153.0 1605.8,1156.3 1606.5,1152.5 1607.2,1157.0 1607.9,1155.3 1608.6,1153.3 1609.4,1150.6 1610.1,1154.2 1610.8,1155.2 1611.5,1158.7 1612.2,1152.8 1613.0,1153.6 1613.7,1151.8 1614.4,1155.2 1615.1,1153.4 1615.8,1151.5 1616.6,1153.1 1617.3,1153.2 1618.0,1151.8 1618.7,1154.6 1619.4,1152.3 1620.2,1152.7 1620.9,1153.8 1621.6,1149.8 1622.3,1154.3 1623.0,1152.9 1623.8,1151.9 1624.5,1158.5 1625.2,1155.0 1625.9,1151.9 1626.6,1150.1 1627.4,1152.0 1628.1,1157.2 1628.8,1148.3 1629.5,1154.9 1630.2,1151.1 1631.0,1154.4 1631.7,1159.5 1632.4,1156.8 1633.1,1154.8 1633.8,1153.2 1634.6,1155.8 1635.3,1151.7 1636.0,1151.3 1636.7,1154.0 1637.4,1158.4 1638.2,1154.6 1638.9,1156.8 1639.6,1152.4 1640.3,1154.2 1641.0,1150.3 1641.8,1154.3 1642.5,1152.3 1643.2,1157.0 1643.9,1157.8 1644.6,1155.5 1645.4,1157.0 1646.1,1152.9 1646.8,1148.1 1647.5,1149.4 1648.2,1153.8 1649.0,1150.5 1649.7,1151.8 1650.4,1152.2 1651.1,1154.3 1651.8,1146.7 1652.6,1155.3 1653.3,1155.1 1654.0,1153.4 1654.7,1153.3 1655.4,1158.2 1656.2,1153.8 1656.9,1147.4 1657.6,1156.9 1658.3,1150.7 1659.0,1153.7 1659.8,1157.7 1660.5,1151.1 1661.2,1152.8 1661.9,1155.3 1662.6,1153.1 1663.4,1155.5 1664.1,1150.1 1664.8,1152.5 1665.5,1153.4 1666.2,1153.2 1667.0,1154.7 1667.7,1156.0 1668.4,1157.0 1669.1,1150.3 1669.8,1152.7 1670.6,1153.7 1671.3,1156.2 1672.0,1155.8 1672.7,1151.1 1673.4,1158.7 1674.2,1153.2 1674.9,1159.6 1675.6,1148.6 1676.3,1152.1 1677.0,1157.5 1677.8,1152.5 1678.5,1153.8 1679.2,1156.5 1679.9,1155.0 1680.6,1158.7 1681.4,1151.9 1682.1,1154.1 1682.8,1151.8 1683.5,1158.0 1684.2,1155.9 1685.0,1154.8 1685.7,1150.7 1686.4,1154.7 1687.1,1150.9 1687.8,1151.5 1688.6,1152.2 1689.3,1153.6 1690.0,1154.5 1690.7,1151.4 1691.4,1152.6 1692.2,1158.0 1692.9,1152.7 1693.6,1154.1 1694.3,1151.4 1695.0,1158.7 1695.8,1151.3 1696.5,1152.5 1697.2,1152.2 1697.9,1152.2 1698.6,1157.5 1699.4,1152.1 1700.1,1154.3 1700.8,1157.5 1701.5,1150.0 1702.2,1151.5 1703.0,1150.1 1703.7,1152.3 1704.4,1151.1 1705.1,1153.6 1705.8,1144.6 1706.6,1154.5 1707.3,1150.4 1708.0,1152.6 1708.7,1146.7 1709.4,1154.8 1710.2,1146.5 1710.9,1144.1 1711.6,1151.9" fill="none" stroke="#ff964f" stroke-width="7.0" stroke-linejoin="round" stroke-linecap="round"/>
<line x1="314.0" y1="344.0" x2="314.0" y2="1206" stroke="#000" stroke-width="6" stroke-dasharray="8.3 19.3"/>
<line x1="477.0" y1="340.0" x2="477.0" y2="1204" stroke="#000" stroke-width="6" stroke-dasharray="8.3 19.3"/>
<line x1="553.0" y1="367.6" x2="553.0" y2="1204" stroke="#000" stroke-width="6" stroke-dasharray="8.3 19.3"/>
<line x1="585.0" y1="316.0" x2="585.0" y2="1207" stroke="#000" stroke-width="6" stroke-dasharray="8.3 19.3"/>
<line x1="605.0" y1="233.0" x2="605.0" y2="1203" stroke="#000" stroke-width="6" stroke-dasharray="8.3 19.3"/>
<line x1="816.0" y1="203.0" x2="816.0" y2="1196" stroke="#000" stroke-width="6" stroke-dasharray="8.3 19.3"/>
<line x1="929.0" y1="500.0" x2="929.0" y2="1204" stroke="#000" stroke-width="6" stroke-dasharray="8.3 19.3"/>
<line x1="966.0" y1="499.0" x2="966.0" y2="1204" stroke="#000" stroke-width="6" stroke-dasharray="8.3 19.3"/>
<line x1="1188.0" y1="508.0" x2="1188.0" y2="1197" stroke="#000" stroke-width="6" stroke-dasharray="8.3 19.3"/>
<line x1="1371.0" y1="368.0" x2="1371.0" y2="1204" stroke="#000" stroke-width="6" stroke-dasharray="8.3 19.3"/>
<line x1="1514.0" y1="517.5" x2="1514.0" y2="1204" stroke="#000" stroke-width="6" stroke-dasharray="8.3 19.3"/>
<rect x="139" y="23" width="1575" height="1178" fill="none" stroke="#000" stroke-width="6"/>
<line x1="282.88" y1="1188" x2="282.88" y2="1200" stroke="#000" stroke-width="6"/>
<line x1="426.00" y1="1175" x2="426.00" y2="1200" stroke="#000" stroke-width="6"/>
<line x1="569.12" y1="1188" x2="569.12" y2="1200" stroke="#000" stroke-width="6"/>
<line x1="712.25" y1="1175" x2="712.25" y2="1200" stroke="#000" stroke-width="6"/>
<line x1="855.38" y1="1188" x2="855.38" y2="1200" stroke="#000" stroke-width="6"/>
<line x1="998.50" y1="1175" x2="998.50" y2="1200" stroke="#000" stroke-width="6"/>
<line x1="1141.62" y1="1188" x2="1141.62" y2="1200" stroke="#000" stroke-width="6"/>
<line x1="1284.75" y1="1175" x2="1284.75" y2="1200" stroke="#000" stroke-width="6"/>
<line x1="1427.88" y1="1188" x2="1427.88" y2="1200" stroke="#000" stroke-width="6"/>
<line x1="1571.00" y1="1175" x2="1571.00" y2="1200" stroke="#000" stroke-width="6"/>
<line x1="1714.12" y1="1188" x2="1714.12" y2="1200" stroke="#000" stroke-width="6"/>
<text class="t" x="154.2" y="1274" font-size="74" text-anchor="middle">20</text>
<text class="t" x="440.5" y="1274" font-size="74" text-anchor="middle">30</text>
<text class="t" x="726.8" y="1274" font-size="74" text-anchor="middle">40</text>
<text class="t" x="1013.0" y="1274" font-size="74" text-anchor="middle">50</text>
<text class="t" x="1299.2" y="1274" font-size="74" text-anchor="middle">60</text>
<text class="t" x="1585.5" y="1274" font-size="74" text-anchor="middle">70</text>
<text class="t" x="714.5" y="1359.5" font-size="78" font-weight="bold">2Theta <tspan font-weight="normal">( </tspan>°<tspan font-weight="normal">)</tspan></text>
<text class="t" transform="translate(72,1034) rotate(-90)" x="0" y="0" font-size="78.8" font-weight="bold">Relative Intensity <tspan font-weight="normal">(</tspan>a.u.<tspan font-weight="normal">)</tspan></text>
<text class="t" x="1680.5" y="552.0" font-size="84" text-anchor="middle">a</text>
<text class="t" x="1678.5" y="753.0" font-size="84" text-anchor="middle">b</text>
<text class="t" x="1674.0" y="957.0" font-size="84" text-anchor="middle">c</text>
<text class="t" x="1673.5" y="1126.0" font-size="84" text-anchor="middle">d</text>
<text class="s" transform="translate(316.5,322.3) scale(1.045,1)" font-size="56.4" text-anchor="middle">&#9830;</text>
<text class="s" transform="translate(475.7,328.0) scale(1.116,1)" font-size="56.2" text-anchor="middle">&#9827;</text>
<text class="s" transform="translate(551.0,353.0) scale(1.122,1)" font-size="55.9" text-anchor="middle">&#9827;</text>
<text class="s" transform="translate(580.3,297.1) scale(0.943,1)" font-size="55.2" text-anchor="middle">&#9829;</text>
<text class="s" transform="translate(604.0,229.1) scale(1.103,1)" font-size="56.8" text-anchor="middle">&#9827;</text>
<text class="s" transform="translate(676.4,396.0) scale(0.938,1)" font-size="55.1" text-anchor="middle">&#9829;</text>
<text class="s" transform="translate(817.4,151.1) scale(1.058,1)" font-size="55.7" text-anchor="middle">&#9830;</text>
<text class="s" transform="translate(816.6,192.2) scale(1.134,1)" font-size="47.7" text-anchor="middle">&#9824;</text>
<text class="s" transform="translate(922.0,487.0) scale(1.111,1)" font-size="56.4" text-anchor="middle">&#9827;</text>
<text class="s" transform="translate(970.0,486.0) scale(1.113,1)" font-size="56.3" text-anchor="middle">&#9827;</text>
<text class="s" transform="translate(1188.5,437.0) scale(1.107,1)" font-size="48.3" text-anchor="middle">&#9824;</text>
<text class="s" transform="translate(1184.0,490.0) scale(1.124,1)" font-size="56.2" text-anchor="middle">&#9827;</text>
<text class="s" transform="translate(1374.0,319.5) scale(1.139,1)" font-size="54.5" text-anchor="middle">&#9824;</text>
<text class="s" transform="translate(1374.0,367.0) scale(1.144,1)" font-size="54.8" text-anchor="middle">&#9827;</text>
<text class="s" transform="translate(1514.0,504.0) scale(1.116,1)" font-size="56.2" text-anchor="middle">&#9827;</text>
<text class="s" transform="translate(1073.5,105.5) scale(1.045,1)" font-size="57.2" text-anchor="middle">&#9830;</text>
<text class="s" transform="translate(1363.4,109.0) scale(0.962,1)" font-size="50.8" text-anchor="middle">&#9829;</text>
<text class="s" transform="translate(1075.6,208.0) scale(1.116,1)" font-size="56.2" text-anchor="middle">&#9827;</text>
<text class="s" transform="translate(1363.9,203.0) scale(1.131,1)" font-size="55.2" text-anchor="middle">&#9824;</text>
<text class="t" x="1102" y="102.5" font-size="67">Graphite</text>
<text class="t" x="1394" y="102.5" font-size="67">Meixnerite</text>
<text class="t" x="1108" y="198.3" font-size="67">ZnO</text>
<text class="t" x="1396" y="198.3" font-size="67">MgO</text>
</svg></body></html>
